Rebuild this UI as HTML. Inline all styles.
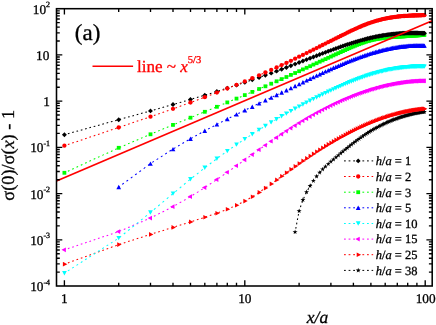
<!DOCTYPE html>
<html><head><meta charset="utf-8"><title>chart</title>
<style>html,body{margin:0;padding:0;background:#fff;}body{width:436px;height:325px;overflow:hidden;position:relative;font-family:"Liberation Serif",serif;}svg text{text-rendering:geometricPrecision;stroke-width:0.3px;}svg text.k{stroke:#000;}svg text.r{stroke:#ff0000;}</style>
</head><body>
<svg width="436" height="325" viewBox="0 0 436 325" style="display:block;position:absolute;left:0;top:0;will-change:transform">
<rect width="436" height="325" fill="#fff"/>
<clipPath id="c"><rect x="56.5" y="8.7" width="375.7" height="277.3"/></clipPath>
<g clip-path="url(#c)">
<path d="M295.09 232.09L295.24 231.29M295.76 228.59L296.06 226.99M296.58 224.29L296.88 222.69M297.40 219.99L297.70 218.39M298.22 215.69L298.52 214.09M299.04 211.39L299.11 211.05M299.11 211.05L299.54 209.79M300.46 207.09L301.01 205.49M301.94 202.79L302.49 201.19M303.59 198.49L304.34 196.89M305.60 194.19L306.35 192.59M307.82 189.89L308.72 188.29M310.27 185.59L311.31 183.99M313.07 181.29L313.39 180.79M313.39 180.79L314.19 179.69M316.13 176.99L316.59 176.36M316.59 176.36L317.38 175.39M319.57 172.69L319.66 172.58M319.66 172.58L321.02 171.09M323.57 168.40L325.17 166.80M327.87 164.29L328.22 163.98M328.22 163.98L329.47 162.88M332.17 160.54L333.44 159.46M333.44 159.46L333.77 159.18M336.47 156.89L338.07 155.54M340.77 153.27L342.37 151.93M345.07 149.70L345.16 149.63M345.16 149.63L346.67 148.39M349.37 146.21L349.39 146.20M349.39 146.20L350.97 144.94M353.67 142.84L355.27 141.62M357.97 139.60L359.08 138.79M359.08 138.79L359.57 138.44M362.27 136.53L362.64 136.27M362.64 136.27L363.87 135.43M366.57 133.64L367.70 132.92M367.70 132.92L368.17 132.62M370.87 130.95L370.89 130.94M370.89 130.94L372.45 130.01M372.45 130.01L372.47 129.99M375.17 128.44L375.46 128.28M375.46 128.28L376.77 127.56M379.47 126.12L379.77 125.96M379.77 125.96L381.07 125.30M383.77 123.98L383.86 123.93M383.86 123.93L385.18 123.31M385.18 123.31L385.37 123.22M388.07 122.01L389.00 121.60M389.00 121.60L389.67 121.32M392.37 120.21L392.65 120.10M392.65 120.10L393.82 119.64M393.82 119.64L393.97 119.58M396.67 118.57L397.26 118.36M397.26 118.36L398.27 118.01M400.97 117.10L401.61 116.90M401.61 116.90L402.57 116.60M405.27 115.79L405.73 115.66M405.73 115.66L406.73 115.38M406.73 115.38L406.87 115.34M409.57 114.63L409.65 114.61M409.65 114.61L410.60 114.37M410.60 114.37L411.17 114.24M413.87 113.62L414.29 113.53M414.29 113.53L415.18 113.34M415.18 113.34L415.47 113.28M418.17 112.75L418.67 112.66M418.67 112.66L419.51 112.51M419.51 112.51L419.77 112.47M422.47 112.03L422.81 111.98M422.81 111.98L423.62 111.86M423.62 111.86L424.07 111.80" fill="none" stroke="#000000" stroke-width="1.05"/>
<path d="M295.1 229.5L295.7 231.3L297.6 231.3L296.0 232.4L296.6 234.2L295.1 233.1L293.6 234.2L294.1 232.4L292.6 231.3L294.5 231.3Z" fill="#000000"/>
<path d="M299.1 208.4L299.7 210.2L301.6 210.2L300.1 211.4L300.6 213.2L299.1 212.0L297.6 213.2L298.2 211.4L296.6 210.2L298.5 210.2Z" fill="#000000"/>
<path d="M302.9 197.3L303.5 199.1L305.4 199.1L303.9 200.2L304.5 202.0L302.9 200.9L301.4 202.0L302.0 200.2L300.5 199.1L302.3 199.1Z" fill="#000000"/>
<path d="M306.6 189.5L307.2 191.3L309.0 191.3L307.5 192.4L308.1 194.2L306.6 193.1L305.0 194.2L305.6 192.4L304.1 191.3L306.0 191.3Z" fill="#000000"/>
<path d="M310.1 183.3L310.6 185.1L312.5 185.1L311.0 186.2L311.6 188.0L310.1 186.9L308.5 188.0L309.1 186.2L307.6 185.1L309.5 185.1Z" fill="#000000"/>
<path d="M313.4 178.2L314.0 180.0L315.9 180.0L314.3 181.1L314.9 182.9L313.4 181.8L311.9 182.9L312.4 181.1L310.9 180.0L312.8 180.0Z" fill="#000000"/>
<path d="M316.6 173.8L317.2 175.6L319.1 175.6L317.5 176.7L318.1 178.5L316.6 177.4L315.1 178.5L315.6 176.7L314.1 175.6L316.0 175.6Z" fill="#000000"/>
<path d="M319.7 170.0L320.2 171.8L322.1 171.8L320.6 172.9L321.2 174.7L319.7 173.6L318.1 174.7L318.7 172.9L317.2 171.8L319.1 171.8Z" fill="#000000"/>
<path d="M322.6 166.7L323.2 168.5L325.1 168.5L323.6 169.7L324.1 171.4L322.6 170.3L321.1 171.4L321.7 169.7L320.1 168.5L322.0 168.5Z" fill="#000000"/>
<path d="M325.5 163.9L326.1 165.7L327.9 165.7L326.4 166.8L327.0 168.6L325.5 167.5L323.9 168.6L324.5 166.8L323.0 165.7L324.9 165.7Z" fill="#000000"/>
<path d="M328.2 161.4L328.8 163.2L330.7 163.2L329.2 164.3L329.7 166.1L328.2 165.0L326.7 166.1L327.3 164.3L325.7 163.2L327.6 163.2Z" fill="#000000"/>
<path d="M330.9 159.0L331.5 160.8L333.3 160.8L331.8 162.0L332.4 163.8L330.9 162.6L329.3 163.8L329.9 162.0L328.4 160.8L330.3 160.8Z" fill="#000000"/>
<path d="M333.4 156.9L334.0 158.6L335.9 158.7L334.4 159.8L335.0 161.6L333.4 160.5L331.9 161.6L332.5 159.8L331.0 158.7L332.9 158.6Z" fill="#000000"/>
<path d="M335.9 154.7L336.5 156.5L338.4 156.5L336.9 157.7L337.5 159.5L335.9 158.3L334.4 159.5L335.0 157.7L333.5 156.5L335.3 156.5Z" fill="#000000"/>
<path d="M338.3 152.7L338.9 154.5L340.8 154.5L339.3 155.6L339.9 157.4L338.3 156.3L336.8 157.4L337.4 155.6L335.9 154.5L337.8 154.5Z" fill="#000000"/>
<path d="M340.7 150.7L341.3 152.5L343.2 152.5L341.6 153.7L342.2 155.4L340.7 154.3L339.2 155.4L339.7 153.7L338.2 152.5L340.1 152.5Z" fill="#000000"/>
<path d="M342.9 148.8L343.5 150.6L345.4 150.6L343.9 151.8L344.5 153.6L342.9 152.4L341.4 153.6L342.0 151.8L340.5 150.6L342.4 150.6Z" fill="#000000"/>
<path d="M345.2 147.0L345.7 148.8L347.6 148.8L346.1 149.9L346.7 151.7L345.2 150.6L343.6 151.7L344.2 149.9L342.7 148.8L344.6 148.8Z" fill="#000000"/>
<path d="M347.3 145.3L347.9 147.1L349.8 147.1L348.3 148.2L348.8 150.0L347.3 148.9L345.8 150.0L346.4 148.2L344.8 147.1L346.7 147.1Z" fill="#000000"/>
<path d="M349.4 143.6L350.0 145.4L351.9 145.4L350.3 146.5L350.9 148.3L349.4 147.2L347.9 148.3L348.4 146.5L346.9 145.4L348.8 145.4Z" fill="#000000"/>
<path d="M351.4 142.0L352.0 143.8L353.9 143.8L352.4 144.9L353.0 146.7L351.4 145.6L349.9 146.7L350.5 144.9L349.0 143.8L350.8 143.8Z" fill="#000000"/>
<path d="M353.4 140.4L354.0 142.2L355.9 142.2L354.4 143.3L354.9 145.1L353.4 144.0L351.9 145.1L352.5 143.3L350.9 142.2L352.8 142.2Z" fill="#000000"/>
<path d="M355.3 139.0L355.9 140.7L357.8 140.8L356.3 141.9L356.9 143.7L355.3 142.6L353.8 143.7L354.4 141.9L352.9 140.8L354.8 140.7Z" fill="#000000"/>
<path d="M357.2 137.5L357.8 139.3L359.7 139.3L358.2 140.5L358.8 142.2L357.2 141.1L355.7 142.2L356.3 140.5L354.8 139.3L356.6 139.3Z" fill="#000000"/>
<path d="M359.1 136.2L359.7 138.0L361.6 138.0L360.0 139.1L360.6 140.9L359.1 139.8L357.5 140.9L358.1 139.1L356.6 138.0L358.5 138.0Z" fill="#000000"/>
<path d="M360.9 134.9L361.5 136.7L363.4 136.7L361.8 137.8L362.4 139.6L360.9 138.5L359.4 139.6L359.9 137.8L358.4 136.7L360.3 136.7Z" fill="#000000"/>
<path d="M362.6 133.7L363.2 135.5L365.1 135.5L363.6 136.6L364.2 138.4L362.6 137.3L361.1 138.4L361.7 136.6L360.2 135.5L362.1 135.5Z" fill="#000000"/>
<path d="M364.4 132.5L364.9 134.3L366.8 134.3L365.3 135.4L365.9 137.2L364.4 136.1L362.8 137.2L363.4 135.4L361.9 134.3L363.8 134.3Z" fill="#000000"/>
<path d="M366.0 131.4L366.6 133.2L368.5 133.2L367.0 134.3L367.6 136.1L366.0 135.0L364.5 136.1L365.1 134.3L363.6 133.2L365.5 133.2Z" fill="#000000"/>
<path d="M367.7 130.3L368.3 132.1L370.2 132.1L368.6 133.2L369.2 135.0L367.7 133.9L366.2 135.0L366.7 133.2L365.2 132.1L367.1 132.1Z" fill="#000000"/>
<path d="M369.3 129.3L369.9 131.1L371.8 131.1L370.3 132.2L370.8 134.0L369.3 132.9L367.8 134.0L368.4 132.2L366.8 131.1L368.7 131.1Z" fill="#000000"/>
<path d="M370.9 128.3L371.5 130.1L373.4 130.1L371.8 131.2L372.4 133.0L370.9 131.9L369.4 133.0L369.9 131.2L368.4 130.1L370.3 130.1Z" fill="#000000"/>
<path d="M372.4 127.4L373.0 129.2L374.9 129.2L373.4 130.3L374.0 132.1L372.4 131.0L370.9 132.1L371.5 130.3L370.0 129.2L371.9 129.2Z" fill="#000000"/>
<path d="M374.0 126.5L374.6 128.3L376.4 128.3L374.9 129.4L375.5 131.2L374.0 130.1L372.4 131.2L373.0 129.4L371.5 128.3L373.4 128.3Z" fill="#000000"/>
<path d="M375.5 125.7L376.0 127.5L377.9 127.5L376.4 128.6L377.0 130.4L375.5 129.3L373.9 130.4L374.5 128.6L373.0 127.5L374.9 127.5Z" fill="#000000"/>
<path d="M376.9 124.9L377.5 126.7L379.4 126.7L377.9 127.8L378.5 129.6L376.9 128.5L375.4 129.6L376.0 127.8L374.5 126.7L376.3 126.7Z" fill="#000000"/>
<path d="M378.4 124.1L378.9 125.9L380.8 125.9L379.3 127.0L379.9 128.8L378.4 127.7L376.8 128.8L377.4 127.0L375.9 125.9L377.8 125.9Z" fill="#000000"/>
<path d="M379.8 123.4L380.4 125.2L382.2 125.2L380.7 126.3L381.3 128.1L379.8 127.0L378.2 128.1L378.8 126.3L377.3 125.2L379.2 125.2Z" fill="#000000"/>
<path d="M381.2 122.7L381.7 124.4L383.6 124.5L382.1 125.6L382.7 127.4L381.2 126.3L379.6 127.4L380.2 125.6L378.7 124.5L380.6 124.4Z" fill="#000000"/>
<path d="M382.5 122.0L383.1 123.8L385.0 123.8L383.5 124.9L384.1 126.7L382.5 125.6L381.0 126.7L381.6 124.9L380.0 123.8L381.9 123.8Z" fill="#000000"/>
<path d="M383.9 121.3L384.4 123.1L386.3 123.1L384.8 124.2L385.4 126.0L383.9 124.9L382.3 126.0L382.9 124.2L381.4 123.1L383.3 123.1Z" fill="#000000"/>
<path d="M385.2 120.7L385.8 122.5L387.7 122.5L386.1 123.6L386.7 125.4L385.2 124.3L383.7 125.4L384.2 123.6L382.7 122.5L384.6 122.5Z" fill="#000000"/>
<path d="M386.5 120.1L387.1 121.9L388.9 121.9L387.4 123.0L388.0 124.8L386.5 123.7L384.9 124.8L385.5 123.0L384.0 121.9L385.9 121.9Z" fill="#000000"/>
<path d="M387.7 119.5L388.3 121.3L390.2 121.3L388.7 122.5L389.3 124.3L387.7 123.1L386.2 124.3L386.8 122.5L385.3 121.3L387.2 121.3Z" fill="#000000"/>
<path d="M389.0 119.0L389.6 120.8L391.5 120.8L390.0 121.9L390.5 123.7L389.0 122.6L387.5 123.7L388.0 121.9L386.5 120.8L388.4 120.8Z" fill="#000000"/>
<path d="M390.2 118.5L390.8 120.3L392.7 120.3L391.2 121.4L391.8 123.2L390.2 122.1L388.7 123.2L389.3 121.4L387.8 120.3L389.6 120.3Z" fill="#000000"/>
<path d="M391.4 118.0L392.0 119.8L393.9 119.8L392.4 120.9L393.0 122.7L391.4 121.6L389.9 122.7L390.5 120.9L389.0 119.8L390.9 119.8Z" fill="#000000"/>
<path d="M392.6 117.5L393.2 119.3L395.1 119.3L393.6 120.4L394.2 122.2L392.6 121.1L391.1 122.2L391.7 120.4L390.2 119.3L392.1 119.3Z" fill="#000000"/>
<path d="M393.8 117.0L394.4 118.8L396.3 118.8L394.8 119.9L395.4 121.7L393.8 120.6L392.3 121.7L392.9 119.9L391.4 118.8L393.2 118.8Z" fill="#000000"/>
<path d="M395.0 116.6L395.6 118.4L397.5 118.4L395.9 119.5L396.5 121.3L395.0 120.2L393.5 121.3L394.0 119.5L392.5 118.4L394.4 118.4Z" fill="#000000"/>
<path d="M396.1 116.2L396.7 118.0L398.6 118.0L397.1 119.1L397.7 120.9L396.1 119.8L394.6 120.9L395.2 119.1L393.7 118.0L395.5 118.0Z" fill="#000000"/>
<path d="M397.3 115.8L397.8 117.6L399.7 117.6L398.2 118.7L398.8 120.5L397.3 119.4L395.7 120.5L396.3 118.7L394.8 117.6L396.7 117.6Z" fill="#000000"/>
<path d="M398.4 115.4L399.0 117.2L400.8 117.2L399.3 118.3L399.9 120.1L398.4 119.0L396.8 120.1L397.4 118.3L395.9 117.2L397.8 117.2Z" fill="#000000"/>
<path d="M399.5 115.0L400.1 116.8L401.9 116.8L400.4 117.9L401.0 119.7L399.5 118.6L397.9 119.7L398.5 117.9L397.0 116.8L398.9 116.8Z" fill="#000000"/>
<path d="M400.5 114.6L401.1 116.4L403.0 116.4L401.5 117.6L402.1 119.3L400.5 118.2L399.0 119.3L399.6 117.6L398.1 116.4L400.0 116.4Z" fill="#000000"/>
<path d="M401.6 114.3L402.2 116.1L404.1 116.1L402.6 117.2L403.1 119.0L401.6 117.9L400.1 119.0L400.7 117.2L399.1 116.1L401.0 116.1Z" fill="#000000"/>
<path d="M402.7 114.0L403.2 115.8L405.1 115.8L403.6 116.9L404.2 118.7L402.7 117.6L401.1 118.7L401.7 116.9L400.2 115.8L402.1 115.8Z" fill="#000000"/>
<path d="M403.7 113.7L404.3 115.4L406.2 115.4L404.6 116.6L405.2 118.4L403.7 117.3L402.2 118.4L402.7 116.6L401.2 115.4L403.1 115.4Z" fill="#000000"/>
<path d="M404.7 113.3L405.3 115.1L407.2 115.1L405.7 116.3L406.3 118.1L404.7 116.9L403.2 118.1L403.8 116.3L402.3 115.1L404.1 115.1Z" fill="#000000"/>
<path d="M405.7 113.1L406.3 114.8L408.2 114.9L406.7 116.0L407.3 117.8L405.7 116.7L404.2 117.8L404.8 116.0L403.3 114.9L405.1 114.8Z" fill="#000000"/>
<path d="M406.7 112.8L407.3 114.6L409.2 114.6L407.7 115.7L408.3 117.5L406.7 116.4L405.2 117.5L405.8 115.7L404.3 114.6L406.1 114.6Z" fill="#000000"/>
<path d="M407.7 112.5L408.3 114.3L410.2 114.3L408.7 115.4L409.2 117.2L407.7 116.1L406.2 117.2L406.8 115.4L405.2 114.3L407.1 114.3Z" fill="#000000"/>
<path d="M408.7 112.3L409.3 114.0L411.2 114.1L409.6 115.2L410.2 117.0L408.7 115.9L407.2 117.0L407.7 115.2L406.2 114.1L408.1 114.0Z" fill="#000000"/>
<path d="M409.7 112.0L410.2 113.8L412.1 113.8L410.6 114.9L411.2 116.7L409.7 115.6L408.1 116.7L408.7 114.9L407.2 113.8L409.1 113.8Z" fill="#000000"/>
<path d="M410.6 111.8L411.2 113.6L413.1 113.6L411.6 114.7L412.1 116.5L410.6 115.4L409.1 116.5L409.7 114.7L408.1 113.6L410.0 113.6Z" fill="#000000"/>
<path d="M411.5 111.5L412.1 113.3L414.0 113.3L412.5 114.5L413.1 116.3L411.5 115.1L410.0 116.3L410.6 114.5L409.1 113.3L411.0 113.3Z" fill="#000000"/>
<path d="M412.5 111.3L413.1 113.1L414.9 113.1L413.4 114.2L414.0 116.0L412.5 114.9L410.9 116.0L411.5 114.2L410.0 113.1L411.9 113.1Z" fill="#000000"/>
<path d="M413.4 111.1L414.0 112.9L415.9 112.9L414.3 114.0L414.9 115.8L413.4 114.7L411.9 115.8L412.4 114.0L410.9 112.9L412.8 112.9Z" fill="#000000"/>
<path d="M414.3 110.9L414.9 112.7L416.8 112.7L415.2 113.8L415.8 115.6L414.3 114.5L412.8 115.6L413.3 113.8L411.8 112.7L413.7 112.7Z" fill="#000000"/>
<path d="M415.2 110.7L415.8 112.5L417.7 112.5L416.1 113.6L416.7 115.4L415.2 114.3L413.7 115.4L414.2 113.6L412.7 112.5L414.6 112.5Z" fill="#000000"/>
<path d="M416.1 110.6L416.7 112.3L418.5 112.4L417.0 113.5L417.6 115.3L416.1 114.2L414.5 115.3L415.1 113.5L413.6 112.4L415.5 112.3Z" fill="#000000"/>
<path d="M416.9 110.4L417.5 112.2L419.4 112.2L417.9 113.3L418.5 115.1L416.9 114.0L415.4 115.1L416.0 113.3L414.5 112.2L416.4 112.2Z" fill="#000000"/>
<path d="M417.8 110.2L418.4 112.0L420.3 112.0L418.8 113.1L419.3 114.9L417.8 113.8L416.3 114.9L416.9 113.1L415.3 112.0L417.2 112.0Z" fill="#000000"/>
<path d="M418.7 110.1L419.3 111.9L421.1 111.9L419.6 113.0L420.2 114.8L418.7 113.7L417.1 114.8L417.7 113.0L416.2 111.9L418.1 111.9Z" fill="#000000"/>
<path d="M419.5 109.9L420.1 111.7L422.0 111.7L420.5 112.8L421.0 114.6L419.5 113.5L418.0 114.6L418.6 112.8L417.0 111.7L418.9 111.7Z" fill="#000000"/>
<path d="M420.4 109.8L420.9 111.6L422.8 111.6L421.3 112.7L421.9 114.5L420.4 113.4L418.8 114.5L419.4 112.7L417.9 111.6L419.8 111.6Z" fill="#000000"/>
<path d="M421.2 109.6L421.8 111.4L423.7 111.4L422.1 112.5L422.7 114.3L421.2 113.2L419.7 114.3L420.2 112.5L418.7 111.4L420.6 111.4Z" fill="#000000"/>
<path d="M422.0 109.5L422.6 111.3L424.5 111.3L423.0 112.4L423.5 114.2L422.0 113.1L420.5 114.2L421.1 112.4L419.5 111.3L421.4 111.3Z" fill="#000000"/>
<path d="M422.8 109.4L423.4 111.2L425.3 111.2L423.8 112.3L424.3 114.1L422.8 113.0L421.3 114.1L421.9 112.3L420.3 111.2L422.2 111.2Z" fill="#000000"/>
<path d="M423.6 109.3L424.2 111.1L426.1 111.1L424.6 112.2L425.1 114.0L423.6 112.9L422.1 114.0L422.7 112.2L421.1 111.1L423.0 111.1Z" fill="#000000"/>
<path d="M424.4 109.1L425.0 110.9L426.9 110.9L425.4 112.1L425.9 113.9L424.4 112.7L422.9 113.9L423.5 112.1L421.9 110.9L423.8 110.9Z" fill="#000000"/>
<path d="M64.40 264.16L65.20 263.87M67.90 262.90L69.50 262.32M72.20 261.35L73.80 260.78M76.50 259.81L78.10 259.23M80.80 258.26L82.40 257.68M85.10 256.71L86.70 256.14M89.40 255.17L91.00 254.59M93.70 253.62L95.30 253.05M98.00 252.08L99.60 251.50M102.30 250.53L103.90 249.95M106.60 248.98L108.20 248.41M110.90 247.44L112.50 246.86M115.20 245.89L116.80 245.32M119.50 244.38L121.10 243.86M123.80 243.00L125.40 242.48M128.10 241.62L129.70 241.10M132.40 240.24L134.00 239.72M136.70 238.85L138.30 238.34M141.00 237.47L142.60 236.96M145.30 236.09L146.90 235.58M149.60 234.71L150.47 234.43M150.47 234.43L151.20 234.21M153.90 233.36L155.50 232.86M158.20 232.02L159.80 231.51M162.50 230.67L164.10 230.17M166.80 229.32L168.40 228.82M171.10 227.98L172.70 227.48M175.40 226.63L177.00 226.12M179.70 225.27L181.30 224.76M184.00 223.91L185.60 223.41M188.30 222.56L189.90 222.05M192.60 221.19L194.20 220.67M196.90 219.80L198.50 219.29M201.20 218.42L202.80 217.90M205.50 217.02L207.10 216.49M209.80 215.58L211.40 215.04M214.10 214.13L215.70 213.60M218.40 212.63L220.00 212.03M222.70 211.02L224.30 210.41M227.00 209.40L227.32 209.28M227.32 209.28L228.60 208.73M231.30 207.55L232.90 206.86M235.60 205.68L236.55 205.27M236.55 205.27L237.20 204.94M239.90 203.57L241.50 202.76M244.20 201.39L244.80 201.09M244.80 201.09L245.80 200.50M248.50 198.93L250.10 198.00M252.80 196.39L254.40 195.36M257.10 193.63L258.70 192.60M261.40 190.77L263.00 189.67M265.70 187.82L267.30 186.68M270.00 184.76L271.16 183.93M271.16 183.93L271.60 183.61M274.30 181.64L275.90 180.47M278.60 178.49L280.20 177.31M282.90 175.32L284.50 174.15M287.20 172.16L288.80 170.99M291.50 169.03L293.10 167.88M295.80 165.94L297.40 164.81M300.10 162.90L301.70 161.79M304.40 159.92L306.00 158.82M308.70 157.00L310.06 156.08M310.06 156.08L310.30 155.92M313.00 154.12L313.39 153.87M313.39 153.87L314.60 153.08M317.30 151.32L318.90 150.29M321.60 148.58L322.62 147.94M322.62 147.94L323.20 147.57M325.90 145.90L327.50 144.92M330.20 143.30L330.87 142.89M330.87 142.89L331.80 142.35M334.50 140.76L335.93 139.94M335.93 139.94L336.10 139.84M338.80 138.30L340.40 137.41M343.10 135.92L344.70 135.06M347.40 133.62L349.00 132.78M351.70 131.40L353.30 130.59M356.00 129.27L357.23 128.67M357.23 128.67L357.60 128.49M360.30 127.22L360.88 126.95M360.88 126.95L361.90 126.48M364.60 125.26L366.05 124.62M366.05 124.62L366.20 124.56M368.90 123.40L369.31 123.22M369.31 123.22L370.50 122.73M373.20 121.63L373.97 121.32M373.97 121.32L374.80 121.00M377.50 119.96L378.36 119.64M378.36 119.64L379.10 119.36M381.80 118.39L382.52 118.14M382.52 118.14L383.40 117.83M386.10 116.92L386.47 116.80M386.47 116.80L387.70 116.40M390.40 115.56L391.45 115.25M391.45 115.25L392.00 115.09M394.70 114.31L394.98 114.23M394.98 114.23L396.13 113.92M396.13 113.92L396.30 113.87M399.00 113.17L399.46 113.05M399.46 113.05L400.54 112.79M400.54 112.79L400.60 112.77M403.30 112.14L403.70 112.05M403.70 112.05L404.72 111.83M404.72 111.83L404.90 111.79M407.60 111.23L407.72 111.21M407.72 111.21L408.69 111.02M408.69 111.02L409.20 110.92M411.90 110.44L412.47 110.35M412.47 110.35L413.38 110.20M413.38 110.20L413.50 110.18M416.20 109.77L416.95 109.67M416.95 109.67L417.80 109.55M420.50 109.22L421.18 109.15M421.18 109.15L422.00 109.06M422.00 109.06L422.10 109.05" fill="none" stroke="#ff0000" stroke-width="1.05"/>
<path d="M67.3 264.2L62.9 261.8L62.9 266.5Z" fill="#ff0000"/>
<path d="M121.6 244.6L117.2 242.3L117.2 247.0Z" fill="#ff0000"/>
<path d="M153.4 234.4L149.0 232.1L149.0 236.8Z" fill="#ff0000"/>
<path d="M175.9 227.4L171.5 225.0L171.5 229.7Z" fill="#ff0000"/>
<path d="M193.4 221.9L189.0 219.5L189.0 224.2Z" fill="#ff0000"/>
<path d="M207.7 217.3L203.3 214.9L203.3 219.6Z" fill="#ff0000"/>
<path d="M219.8 213.2L215.4 210.9L215.4 215.6Z" fill="#ff0000"/>
<path d="M230.2 209.3L225.8 206.9L225.8 211.6Z" fill="#ff0000"/>
<path d="M239.4 205.3L235.0 202.9L235.0 207.6Z" fill="#ff0000"/>
<path d="M247.7 201.1L243.3 198.7L243.3 203.4Z" fill="#ff0000"/>
<path d="M255.2 196.7L250.8 194.4L250.8 199.1Z" fill="#ff0000"/>
<path d="M262.0 192.4L257.6 190.0L257.6 194.7Z" fill="#ff0000"/>
<path d="M268.3 188.1L263.9 185.7L263.9 190.4Z" fill="#ff0000"/>
<path d="M274.1 183.9L269.7 181.6L269.7 186.3Z" fill="#ff0000"/>
<path d="M279.5 180.0L275.1 177.6L275.1 182.3Z" fill="#ff0000"/>
<path d="M284.5 176.3L280.1 173.9L280.1 178.6Z" fill="#ff0000"/>
<path d="M289.3 172.8L284.9 170.4L284.9 175.1Z" fill="#ff0000"/>
<path d="M293.8 169.5L289.4 167.1L289.4 171.8Z" fill="#ff0000"/>
<path d="M298.0 166.4L293.6 164.1L293.6 168.8Z" fill="#ff0000"/>
<path d="M302.0 163.6L297.6 161.2L297.6 165.9Z" fill="#ff0000"/>
<path d="M305.8 160.9L301.4 158.6L301.4 163.3Z" fill="#ff0000"/>
<path d="M309.5 158.4L305.1 156.1L305.1 160.8Z" fill="#ff0000"/>
<path d="M313.0 156.1L308.6 153.7L308.6 158.4Z" fill="#ff0000"/>
<path d="M316.3 153.9L311.9 151.5L311.9 156.2Z" fill="#ff0000"/>
<path d="M319.5 151.8L315.1 149.4L315.1 154.1Z" fill="#ff0000"/>
<path d="M322.6 149.8L318.2 147.5L318.2 152.2Z" fill="#ff0000"/>
<path d="M325.5 147.9L321.1 145.6L321.1 150.3Z" fill="#ff0000"/>
<path d="M328.4 146.2L324.0 143.8L324.0 148.5Z" fill="#ff0000"/>
<path d="M331.1 144.5L326.7 142.1L326.7 146.8Z" fill="#ff0000"/>
<path d="M333.8 142.9L329.4 140.5L329.4 145.2Z" fill="#ff0000"/>
<path d="M336.3 141.4L331.9 139.0L331.9 143.7Z" fill="#ff0000"/>
<path d="M338.8 139.9L334.4 137.6L334.4 142.3Z" fill="#ff0000"/>
<path d="M341.2 138.6L336.8 136.2L336.8 140.9Z" fill="#ff0000"/>
<path d="M343.6 137.3L339.2 134.9L339.2 139.6Z" fill="#ff0000"/>
<path d="M345.8 136.0L341.4 133.7L341.4 138.4Z" fill="#ff0000"/>
<path d="M348.1 134.8L343.7 132.5L343.7 137.2Z" fill="#ff0000"/>
<path d="M350.2 133.7L345.8 131.3L345.8 136.0Z" fill="#ff0000"/>
<path d="M352.3 132.6L347.9 130.2L347.9 134.9Z" fill="#ff0000"/>
<path d="M354.3 131.5L349.9 129.2L349.9 133.9Z" fill="#ff0000"/>
<path d="M356.3 130.5L351.9 128.2L351.9 132.9Z" fill="#ff0000"/>
<path d="M358.2 129.6L353.8 127.2L353.8 131.9Z" fill="#ff0000"/>
<path d="M360.1 128.7L355.7 126.3L355.7 131.0Z" fill="#ff0000"/>
<path d="M362.0 127.8L357.6 125.4L357.6 130.1Z" fill="#ff0000"/>
<path d="M363.8 126.9L359.4 124.6L359.4 129.3Z" fill="#ff0000"/>
<path d="M365.5 126.1L361.1 123.8L361.1 128.5Z" fill="#ff0000"/>
<path d="M367.3 125.4L362.9 123.0L362.9 127.7Z" fill="#ff0000"/>
<path d="M368.9 124.6L364.5 122.3L364.5 127.0Z" fill="#ff0000"/>
<path d="M370.6 123.9L366.2 121.6L366.2 126.3Z" fill="#ff0000"/>
<path d="M372.2 123.2L367.8 120.9L367.8 125.6Z" fill="#ff0000"/>
<path d="M373.8 122.6L369.4 120.2L369.4 124.9Z" fill="#ff0000"/>
<path d="M375.3 121.9L370.9 119.6L370.9 124.3Z" fill="#ff0000"/>
<path d="M376.9 121.3L372.5 119.0L372.5 123.7Z" fill="#ff0000"/>
<path d="M378.4 120.7L374.0 118.4L374.0 123.1Z" fill="#ff0000"/>
<path d="M379.8 120.2L375.4 117.8L375.4 122.5Z" fill="#ff0000"/>
<path d="M381.3 119.6L376.9 117.3L376.9 122.0Z" fill="#ff0000"/>
<path d="M382.7 119.1L378.3 116.8L378.3 121.5Z" fill="#ff0000"/>
<path d="M384.1 118.6L379.7 116.3L379.7 121.0Z" fill="#ff0000"/>
<path d="M385.4 118.1L381.0 115.8L381.0 120.5Z" fill="#ff0000"/>
<path d="M386.8 117.7L382.4 115.3L382.4 120.0Z" fill="#ff0000"/>
<path d="M388.1 117.2L383.7 114.9L383.7 119.6Z" fill="#ff0000"/>
<path d="M389.4 116.8L385.0 114.5L385.0 119.2Z" fill="#ff0000"/>
<path d="M390.6 116.4L386.2 114.0L386.2 118.7Z" fill="#ff0000"/>
<path d="M391.9 116.0L387.5 113.6L387.5 118.3Z" fill="#ff0000"/>
<path d="M393.1 115.6L388.7 113.3L388.7 118.0Z" fill="#ff0000"/>
<path d="M394.3 115.2L389.9 112.9L389.9 117.6Z" fill="#ff0000"/>
<path d="M395.5 114.9L391.1 112.5L391.1 117.2Z" fill="#ff0000"/>
<path d="M396.7 114.6L392.3 112.2L392.3 116.9Z" fill="#ff0000"/>
<path d="M397.9 114.2L393.5 111.9L393.5 116.6Z" fill="#ff0000"/>
<path d="M399.0 113.9L394.6 111.6L394.6 116.3Z" fill="#ff0000"/>
<path d="M400.2 113.6L395.8 111.3L395.8 116.0Z" fill="#ff0000"/>
<path d="M401.3 113.3L396.9 111.0L396.9 115.7Z" fill="#ff0000"/>
<path d="M402.4 113.1L398.0 110.7L398.0 115.4Z" fill="#ff0000"/>
<path d="M403.4 112.8L399.0 110.4L399.0 115.1Z" fill="#ff0000"/>
<path d="M404.5 112.5L400.1 110.2L400.1 114.9Z" fill="#ff0000"/>
<path d="M405.6 112.3L401.2 109.9L401.2 114.6Z" fill="#ff0000"/>
<path d="M406.6 112.1L402.2 109.7L402.2 114.4Z" fill="#ff0000"/>
<path d="M407.6 111.8L403.2 109.5L403.2 114.2Z" fill="#ff0000"/>
<path d="M408.6 111.6L404.2 109.3L404.2 114.0Z" fill="#ff0000"/>
<path d="M409.6 111.4L405.2 109.1L405.2 113.8Z" fill="#ff0000"/>
<path d="M410.6 111.2L406.2 108.9L406.2 113.6Z" fill="#ff0000"/>
<path d="M411.6 111.0L407.2 108.7L407.2 113.4Z" fill="#ff0000"/>
<path d="M412.6 110.8L408.2 108.5L408.2 113.2Z" fill="#ff0000"/>
<path d="M413.5 110.7L409.1 108.3L409.1 113.0Z" fill="#ff0000"/>
<path d="M414.4 110.5L410.0 108.2L410.0 112.9Z" fill="#ff0000"/>
<path d="M415.4 110.3L411.0 108.0L411.0 112.7Z" fill="#ff0000"/>
<path d="M416.3 110.2L411.9 107.8L411.9 112.5Z" fill="#ff0000"/>
<path d="M417.2 110.1L412.8 107.7L412.8 112.4Z" fill="#ff0000"/>
<path d="M418.1 109.9L413.7 107.6L413.7 112.3Z" fill="#ff0000"/>
<path d="M419.0 109.8L414.6 107.4L414.6 112.1Z" fill="#ff0000"/>
<path d="M419.8 109.7L415.4 107.3L415.4 112.0Z" fill="#ff0000"/>
<path d="M420.7 109.6L416.3 107.2L416.3 111.9Z" fill="#ff0000"/>
<path d="M421.6 109.4L417.2 107.1L417.2 111.8Z" fill="#ff0000"/>
<path d="M422.4 109.3L418.0 107.0L418.0 111.7Z" fill="#ff0000"/>
<path d="M423.3 109.2L418.9 106.9L418.9 111.6Z" fill="#ff0000"/>
<path d="M424.1 109.1L419.7 106.8L419.7 111.5Z" fill="#ff0000"/>
<path d="M424.9 109.1L420.5 106.7L420.5 111.4Z" fill="#ff0000"/>
<path d="M425.7 109.0L421.3 106.6L421.3 111.3Z" fill="#ff0000"/>
<path d="M426.5 108.9L422.1 106.6L422.1 111.3Z" fill="#ff0000"/>
<path d="M427.3 108.8L422.9 106.5L422.9 111.2Z" fill="#ff0000"/>
<path d="M64.40 249.83L65.20 249.56M67.90 248.65L69.50 248.12M72.20 247.21L73.80 246.67M76.50 245.77L78.10 245.23M80.80 244.32L82.40 243.79M85.10 242.88L86.70 242.34M89.40 241.44L91.00 240.90M93.70 240.00L95.30 239.46M98.00 238.55L99.60 238.02M102.30 237.11L103.90 236.57M106.60 235.67L108.20 235.13M110.90 234.22L112.50 233.69M115.20 232.78L116.80 232.25M119.50 231.27L121.10 230.58M123.80 229.43L125.40 228.75M128.10 227.60L129.70 226.92M132.40 225.76L134.00 225.08M136.70 223.93L138.30 223.25M141.00 222.10L142.60 221.41M145.30 220.26L146.90 219.58M149.60 218.43L150.47 218.06M150.47 218.06L151.20 217.69M153.90 216.32L155.50 215.52M158.20 214.15L159.80 213.34M162.50 211.98L164.10 211.17M166.80 209.81L168.40 209.00M171.10 207.63L172.70 206.82M175.40 205.30L177.00 204.38M179.70 202.83L181.30 201.91M184.00 200.36L185.60 199.44M188.30 197.89L189.90 196.97M192.60 195.30L194.20 194.29M196.90 192.59L198.50 191.58M201.20 189.87L202.80 188.86M205.50 187.13L207.10 186.06M209.80 184.25L211.40 183.17M214.10 181.37L215.70 180.29M218.40 178.45L220.00 177.34M222.70 175.47L224.30 174.36M227.00 172.48L227.32 172.26M227.32 172.26L228.60 171.36M231.30 169.45L232.90 168.31M235.60 166.40L236.55 165.74M236.55 165.74L237.20 165.27M239.90 163.34L241.50 162.20M244.20 160.27L244.80 159.85M244.80 159.85L245.80 159.13M248.50 157.20L250.10 156.06M252.80 154.14L254.40 153.00M257.10 151.08L258.70 149.94M261.40 148.04L263.00 146.92M265.70 145.02L267.30 143.91M270.00 142.04L271.16 141.23M271.16 141.23L271.60 140.93M274.30 139.09L275.90 138.00M278.60 136.19L280.20 135.12M282.90 133.33L284.50 132.28M287.20 130.52L288.80 129.50M291.50 127.78L293.10 126.77M295.80 125.09L297.40 124.11M300.10 122.46L301.70 121.50M304.40 119.90L306.00 118.96M308.70 117.40L310.06 116.61M310.06 116.61L310.30 116.48M313.00 114.96L313.39 114.74M313.39 114.74L314.60 114.07M317.30 112.59L318.90 111.73M321.60 110.29L322.62 109.75M322.62 109.75L323.20 109.45M325.90 108.06L327.50 107.25M330.20 105.91L330.87 105.57M330.87 105.57L331.80 105.12M334.50 103.83L335.93 103.15M335.93 103.15L336.10 103.07M338.80 101.82L340.40 101.10M343.10 99.90L344.70 99.21M347.40 98.06L349.00 97.39M351.70 96.30L353.30 95.66M356.00 94.62L357.23 94.15M357.23 94.15L357.60 94.02M360.30 93.03L360.88 92.82M360.88 92.82L361.90 92.46M364.60 91.53L366.05 91.04M366.05 91.04L366.20 90.99M368.90 90.12L369.31 89.99M369.31 89.99L370.50 89.62M373.20 88.80L373.97 88.57M373.97 88.57L374.80 88.33M377.50 87.57L378.36 87.34M378.36 87.34L379.10 87.14M381.80 86.44L382.52 86.26M382.52 86.26L383.40 86.05M386.10 85.41L386.47 85.33M386.47 85.33L387.70 85.05M390.40 84.48L391.45 84.26M391.45 84.26L392.00 84.16M394.70 83.65L394.98 83.59M394.98 83.59L396.13 83.39M396.13 83.39L396.30 83.36M399.00 82.92L399.46 82.84M399.46 82.84L400.54 82.68M400.54 82.68L400.60 82.67M403.30 82.29L403.70 82.24M403.70 82.24L404.72 82.11M404.72 82.11L404.90 82.09M407.60 81.78L407.72 81.76M407.72 81.76L408.69 81.66M408.69 81.66L409.20 81.61M411.90 81.37L412.47 81.32M412.47 81.32L413.38 81.25M413.38 81.25L413.50 81.25M416.20 81.07L416.95 81.03M416.95 81.03L417.80 80.99M420.50 80.89L421.18 80.87M421.18 80.87L422.00 80.85M422.00 80.85L422.10 80.85" fill="none" stroke="#ff00ff" stroke-width="1.05"/>
<path d="M61.5 249.8L65.9 247.5L65.9 252.2Z" fill="#ff00ff"/>
<path d="M115.8 231.6L120.2 229.3L120.2 234.0Z" fill="#ff00ff"/>
<path d="M147.6 218.1L152.0 215.7L152.0 220.4Z" fill="#ff00ff"/>
<path d="M170.1 206.7L174.5 204.3L174.5 209.0Z" fill="#ff00ff"/>
<path d="M187.6 196.6L192.0 194.3L192.0 199.0Z" fill="#ff00ff"/>
<path d="M201.9 187.6L206.3 185.3L206.3 190.0Z" fill="#ff00ff"/>
<path d="M214.0 179.5L218.4 177.2L218.4 181.9Z" fill="#ff00ff"/>
<path d="M224.4 172.3L228.8 169.9L228.8 174.6Z" fill="#ff00ff"/>
<path d="M233.6 165.7L238.0 163.4L238.0 168.1Z" fill="#ff00ff"/>
<path d="M241.9 159.8L246.3 157.5L246.3 162.2Z" fill="#ff00ff"/>
<path d="M249.4 154.5L253.8 152.2L253.8 156.9Z" fill="#ff00ff"/>
<path d="M256.2 149.7L260.6 147.3L260.6 152.0Z" fill="#ff00ff"/>
<path d="M262.5 145.3L266.9 142.9L266.9 147.6Z" fill="#ff00ff"/>
<path d="M268.3 141.2L272.7 138.9L272.7 143.6Z" fill="#ff00ff"/>
<path d="M273.7 137.5L278.1 135.2L278.1 139.9Z" fill="#ff00ff"/>
<path d="M278.7 134.2L283.1 131.8L283.1 136.5Z" fill="#ff00ff"/>
<path d="M283.5 131.1L287.9 128.7L287.9 133.4Z" fill="#ff00ff"/>
<path d="M288.0 128.2L292.4 125.8L292.4 130.5Z" fill="#ff00ff"/>
<path d="M292.2 125.5L296.6 123.2L296.6 127.9Z" fill="#ff00ff"/>
<path d="M296.2 123.1L300.6 120.7L300.6 125.4Z" fill="#ff00ff"/>
<path d="M300.0 120.8L304.4 118.4L304.4 123.1Z" fill="#ff00ff"/>
<path d="M303.7 118.6L308.1 116.3L308.1 121.0Z" fill="#ff00ff"/>
<path d="M307.2 116.6L311.6 114.3L311.6 119.0Z" fill="#ff00ff"/>
<path d="M310.5 114.7L314.9 112.4L314.9 117.1Z" fill="#ff00ff"/>
<path d="M313.7 113.0L318.1 110.6L318.1 115.3Z" fill="#ff00ff"/>
<path d="M316.8 111.3L321.2 109.0L321.2 113.7Z" fill="#ff00ff"/>
<path d="M319.7 109.8L324.1 107.4L324.1 112.1Z" fill="#ff00ff"/>
<path d="M322.6 108.3L327.0 105.9L327.0 110.6Z" fill="#ff00ff"/>
<path d="M325.3 106.9L329.7 104.5L329.7 109.2Z" fill="#ff00ff"/>
<path d="M328.0 105.6L332.4 103.2L332.4 107.9Z" fill="#ff00ff"/>
<path d="M330.5 104.3L334.9 102.0L334.9 106.7Z" fill="#ff00ff"/>
<path d="M333.0 103.2L337.4 100.8L337.4 105.5Z" fill="#ff00ff"/>
<path d="M335.4 102.0L339.8 99.7L339.8 104.4Z" fill="#ff00ff"/>
<path d="M337.8 101.0L342.2 98.6L342.2 103.3Z" fill="#ff00ff"/>
<path d="M340.0 100.0L344.4 97.6L344.4 102.3Z" fill="#ff00ff"/>
<path d="M342.3 99.0L346.7 96.7L346.7 101.4Z" fill="#ff00ff"/>
<path d="M344.4 98.1L348.8 95.7L348.8 100.4Z" fill="#ff00ff"/>
<path d="M346.5 97.2L350.9 94.9L350.9 99.6Z" fill="#ff00ff"/>
<path d="M348.5 96.4L352.9 94.1L352.9 98.8Z" fill="#ff00ff"/>
<path d="M350.5 95.6L354.9 93.3L354.9 98.0Z" fill="#ff00ff"/>
<path d="M352.4 94.9L356.8 92.5L356.8 97.2Z" fill="#ff00ff"/>
<path d="M354.3 94.2L358.7 91.8L358.7 96.5Z" fill="#ff00ff"/>
<path d="M356.2 93.5L360.6 91.1L360.6 95.8Z" fill="#ff00ff"/>
<path d="M358.0 92.8L362.4 90.5L362.4 95.2Z" fill="#ff00ff"/>
<path d="M359.7 92.2L364.1 89.9L364.1 94.6Z" fill="#ff00ff"/>
<path d="M361.5 91.6L365.9 89.3L365.9 94.0Z" fill="#ff00ff"/>
<path d="M363.1 91.0L367.5 88.7L367.5 93.4Z" fill="#ff00ff"/>
<path d="M364.8 90.5L369.2 88.2L369.2 92.9Z" fill="#ff00ff"/>
<path d="M366.4 90.0L370.8 87.6L370.8 92.3Z" fill="#ff00ff"/>
<path d="M368.0 89.5L372.4 87.1L372.4 91.8Z" fill="#ff00ff"/>
<path d="M369.5 89.0L373.9 86.7L373.9 91.4Z" fill="#ff00ff"/>
<path d="M371.1 88.6L375.5 86.2L375.5 90.9Z" fill="#ff00ff"/>
<path d="M372.6 88.1L377.0 85.8L377.0 90.5Z" fill="#ff00ff"/>
<path d="M374.0 87.7L378.4 85.4L378.4 90.1Z" fill="#ff00ff"/>
<path d="M375.5 87.3L379.9 85.0L379.9 89.7Z" fill="#ff00ff"/>
<path d="M376.9 87.0L381.3 84.6L381.3 89.3Z" fill="#ff00ff"/>
<path d="M378.3 86.6L382.7 84.3L382.7 89.0Z" fill="#ff00ff"/>
<path d="M379.6 86.3L384.0 83.9L384.0 88.6Z" fill="#ff00ff"/>
<path d="M381.0 85.9L385.4 83.6L385.4 88.3Z" fill="#ff00ff"/>
<path d="M382.3 85.6L386.7 83.3L386.7 88.0Z" fill="#ff00ff"/>
<path d="M383.6 85.3L388.0 83.0L388.0 87.7Z" fill="#ff00ff"/>
<path d="M384.8 85.0L389.2 82.7L389.2 87.4Z" fill="#ff00ff"/>
<path d="M386.1 84.8L390.5 82.4L390.5 87.1Z" fill="#ff00ff"/>
<path d="M387.3 84.5L391.7 82.2L391.7 86.9Z" fill="#ff00ff"/>
<path d="M388.5 84.3L392.9 81.9L392.9 86.6Z" fill="#ff00ff"/>
<path d="M389.7 84.0L394.1 81.7L394.1 86.4Z" fill="#ff00ff"/>
<path d="M390.9 83.8L395.3 81.5L395.3 86.2Z" fill="#ff00ff"/>
<path d="M392.1 83.6L396.5 81.2L396.5 85.9Z" fill="#ff00ff"/>
<path d="M393.2 83.4L397.6 81.0L397.6 85.7Z" fill="#ff00ff"/>
<path d="M394.4 83.2L398.8 80.8L398.8 85.5Z" fill="#ff00ff"/>
<path d="M395.5 83.0L399.9 80.7L399.9 85.4Z" fill="#ff00ff"/>
<path d="M396.6 82.8L401.0 80.5L401.0 85.2Z" fill="#ff00ff"/>
<path d="M397.6 82.7L402.0 80.3L402.0 85.0Z" fill="#ff00ff"/>
<path d="M398.7 82.5L403.1 80.2L403.1 84.9Z" fill="#ff00ff"/>
<path d="M399.8 82.4L404.2 80.0L404.2 84.7Z" fill="#ff00ff"/>
<path d="M400.8 82.2L405.2 79.9L405.2 84.6Z" fill="#ff00ff"/>
<path d="M401.8 82.1L406.2 79.8L406.2 84.5Z" fill="#ff00ff"/>
<path d="M402.8 82.0L407.2 79.6L407.2 84.3Z" fill="#ff00ff"/>
<path d="M403.8 81.9L408.2 79.5L408.2 84.2Z" fill="#ff00ff"/>
<path d="M404.8 81.8L409.2 79.4L409.2 84.1Z" fill="#ff00ff"/>
<path d="M405.8 81.7L410.2 79.3L410.2 84.0Z" fill="#ff00ff"/>
<path d="M406.8 81.6L411.2 79.2L411.2 83.9Z" fill="#ff00ff"/>
<path d="M407.7 81.5L412.1 79.1L412.1 83.8Z" fill="#ff00ff"/>
<path d="M408.6 81.4L413.0 79.0L413.0 83.7Z" fill="#ff00ff"/>
<path d="M409.6 81.3L414.0 79.0L414.0 83.7Z" fill="#ff00ff"/>
<path d="M410.5 81.3L414.9 78.9L414.9 83.6Z" fill="#ff00ff"/>
<path d="M411.4 81.2L415.8 78.8L415.8 83.5Z" fill="#ff00ff"/>
<path d="M412.3 81.1L416.7 78.8L416.7 83.5Z" fill="#ff00ff"/>
<path d="M413.2 81.1L417.6 78.7L417.6 83.4Z" fill="#ff00ff"/>
<path d="M414.0 81.0L418.4 78.7L418.4 83.4Z" fill="#ff00ff"/>
<path d="M414.9 81.0L419.3 78.6L419.3 83.3Z" fill="#ff00ff"/>
<path d="M415.8 81.0L420.2 78.6L420.2 83.3Z" fill="#ff00ff"/>
<path d="M416.6 80.9L421.0 78.6L421.0 83.3Z" fill="#ff00ff"/>
<path d="M417.5 80.9L421.9 78.5L421.9 83.2Z" fill="#ff00ff"/>
<path d="M418.3 80.9L422.7 78.5L422.7 83.2Z" fill="#ff00ff"/>
<path d="M419.1 80.8L423.5 78.5L423.5 83.2Z" fill="#ff00ff"/>
<path d="M419.9 80.8L424.3 78.5L424.3 83.2Z" fill="#ff00ff"/>
<path d="M420.7 80.8L425.1 78.5L425.1 83.2Z" fill="#ff00ff"/>
<path d="M421.5 80.8L425.9 78.5L425.9 83.2Z" fill="#ff00ff"/>
<path d="M64.40 273.16L65.20 272.64M67.90 270.90L69.50 269.87M72.20 268.13L73.80 267.09M76.50 265.35L78.10 264.32M80.80 262.58L82.40 261.55M85.10 259.80L86.70 258.77M89.40 257.03L91.00 256.00M93.70 254.26L95.30 253.22M98.00 251.48L99.60 250.45M102.30 248.71L103.90 247.68M106.60 245.93L108.20 244.90M110.90 243.16L112.50 242.13M115.20 240.39L116.80 239.35M119.50 237.48L121.10 236.19M123.80 234.01L125.40 232.72M128.10 230.54L129.70 229.25M132.40 227.07L134.00 225.78M136.70 223.60L138.30 222.31M141.00 220.13L142.60 218.83M145.30 216.65L146.90 215.36M149.60 213.18L150.47 212.48M150.47 212.48L151.20 211.87M153.90 209.61L155.50 208.27M158.20 206.00L159.80 204.66M162.50 202.40L164.10 201.06M166.80 198.80L168.40 197.46M171.10 195.19L172.70 193.85M175.40 191.62L177.00 190.30M179.70 188.07L181.30 186.75M184.00 184.52L185.60 183.20M188.30 180.97L189.90 179.65M192.60 177.48L194.20 176.21M196.90 174.06L198.50 172.79M201.20 170.65L202.80 169.37M205.50 167.26L207.10 166.04M209.80 164.00L211.40 162.79M214.10 160.74L215.70 159.53M218.40 157.53L220.00 156.38M222.70 154.42L224.30 153.26M227.00 151.30L227.32 151.07M227.32 151.07L228.60 150.18M231.30 148.30L232.90 147.18M235.60 145.30L236.55 144.64M236.55 144.64L237.20 144.20M239.90 142.38L241.50 141.30M244.20 139.48L244.80 139.08M244.80 139.08L245.80 138.42M248.50 136.66L250.10 135.61M252.80 133.85L254.40 132.84M257.10 131.12L258.70 130.10M261.40 128.42L263.00 127.43M265.70 125.76L267.30 124.79M270.00 123.15L271.16 122.45M271.16 122.45L271.60 122.19M274.30 120.59L275.90 119.64M278.60 118.06L280.20 117.13M282.90 115.58L284.50 114.66M287.20 113.13L288.80 112.23M291.50 110.73L293.10 109.84M295.80 108.36L297.40 107.49M300.10 106.04L301.70 105.18M304.40 103.75L306.00 102.91M308.70 101.50L310.06 100.80M310.06 100.80L310.30 100.67M313.00 99.29L313.39 99.10M313.39 99.10L314.60 98.49M317.30 97.13L318.90 96.33M321.60 95.00L322.62 94.50M322.62 94.50L323.20 94.22M325.90 92.92L327.50 92.15M330.20 90.88L330.87 90.56M330.87 90.56L331.80 90.13M334.50 88.87L335.93 88.22M335.93 88.22L336.10 88.14M338.80 86.92L340.40 86.21M343.10 85.02L344.70 84.33M347.40 83.18L349.00 82.51M351.70 81.40L353.30 80.76M356.00 79.70L357.23 79.23M357.23 79.23L357.60 79.09M360.30 78.08L360.88 77.87M360.88 77.87L361.90 77.50M364.60 76.55L366.05 76.05M366.05 76.05L366.20 76.00M368.90 75.10L369.31 74.97M369.31 74.97L370.50 74.59M373.20 73.76L373.97 73.53M373.97 73.53L374.80 73.29M377.50 72.52L378.36 72.28M378.36 72.28L379.10 72.09M381.80 71.39L382.52 71.22M382.52 71.22L383.40 71.01M386.10 70.39L386.47 70.30M386.47 70.30L387.70 70.04M390.40 69.50L391.45 69.30M391.45 69.30L392.00 69.20M394.70 68.73L394.98 68.69M394.98 68.69L396.13 68.51M396.13 68.51L396.30 68.48M399.00 68.09L399.46 68.03M399.46 68.03L400.54 67.89M400.54 67.89L400.60 67.88M403.30 67.56L403.70 67.52M403.70 67.52L404.72 67.41M404.72 67.41L404.90 67.39M407.60 67.15L407.72 67.14M407.72 67.14L408.69 67.06M408.69 67.06L409.20 67.02M411.90 66.85L412.47 66.81M412.47 66.81L413.38 66.77M413.38 66.77L413.50 66.76M416.20 66.66L416.95 66.63M416.95 66.63L417.80 66.61M420.50 66.57L421.18 66.57M421.18 66.57L422.00 66.57M422.00 66.57L422.10 66.57" fill="none" stroke="#00ffff" stroke-width="1.05"/>
<path d="M64.4 275.4L66.8 271.0L62.1 271.0Z" fill="#00ffff"/>
<path d="M118.7 240.3L121.1 235.9L116.4 235.9Z" fill="#00ffff"/>
<path d="M150.5 214.7L152.8 210.3L148.1 210.3Z" fill="#00ffff"/>
<path d="M173.0 195.8L175.4 191.4L170.7 191.4Z" fill="#00ffff"/>
<path d="M190.5 181.4L192.8 177.0L188.1 177.0Z" fill="#00ffff"/>
<path d="M204.8 170.0L207.1 165.6L202.4 165.6Z" fill="#00ffff"/>
<path d="M216.9 160.9L219.2 156.5L214.5 156.5Z" fill="#00ffff"/>
<path d="M227.3 153.3L229.7 148.9L225.0 148.9Z" fill="#00ffff"/>
<path d="M236.5 146.8L238.9 142.4L234.2 142.4Z" fill="#00ffff"/>
<path d="M244.8 141.3L247.2 136.9L242.5 136.9Z" fill="#00ffff"/>
<path d="M252.3 136.4L254.6 132.0L249.9 132.0Z" fill="#00ffff"/>
<path d="M259.1 132.1L261.4 127.7L256.7 127.7Z" fill="#00ffff"/>
<path d="M265.4 128.2L267.7 123.8L263.0 123.8Z" fill="#00ffff"/>
<path d="M271.2 124.6L273.5 120.2L268.8 120.2Z" fill="#00ffff"/>
<path d="M276.6 121.4L278.9 117.0L274.2 117.0Z" fill="#00ffff"/>
<path d="M281.6 118.5L284.0 114.1L279.3 114.1Z" fill="#00ffff"/>
<path d="M286.4 115.8L288.7 111.4L284.0 111.4Z" fill="#00ffff"/>
<path d="M290.9 113.3L293.2 108.9L288.5 108.9Z" fill="#00ffff"/>
<path d="M295.1 110.9L297.4 106.5L292.7 106.5Z" fill="#00ffff"/>
<path d="M299.1 108.8L301.5 104.4L296.8 104.4Z" fill="#00ffff"/>
<path d="M302.9 106.7L305.3 102.3L300.6 102.3Z" fill="#00ffff"/>
<path d="M306.6 104.8L308.9 100.4L304.2 100.4Z" fill="#00ffff"/>
<path d="M310.1 103.0L312.4 98.6L307.7 98.6Z" fill="#00ffff"/>
<path d="M313.4 101.3L315.7 96.9L311.0 96.9Z" fill="#00ffff"/>
<path d="M316.6 99.7L318.9 95.3L314.2 95.3Z" fill="#00ffff"/>
<path d="M319.7 98.2L322.0 93.8L317.3 93.8Z" fill="#00ffff"/>
<path d="M322.6 96.7L325.0 92.3L320.3 92.3Z" fill="#00ffff"/>
<path d="M325.5 95.3L327.8 90.9L323.1 90.9Z" fill="#00ffff"/>
<path d="M328.2 94.0L330.6 89.6L325.9 89.6Z" fill="#00ffff"/>
<path d="M330.9 92.8L333.2 88.4L328.5 88.4Z" fill="#00ffff"/>
<path d="M333.4 91.6L335.8 87.2L331.1 87.2Z" fill="#00ffff"/>
<path d="M335.9 90.4L338.3 86.0L333.6 86.0Z" fill="#00ffff"/>
<path d="M338.3 89.3L340.7 84.9L336.0 84.9Z" fill="#00ffff"/>
<path d="M340.7 88.3L343.0 83.9L338.3 83.9Z" fill="#00ffff"/>
<path d="M342.9 87.3L345.3 82.9L340.6 82.9Z" fill="#00ffff"/>
<path d="M345.2 86.3L347.5 81.9L342.8 81.9Z" fill="#00ffff"/>
<path d="M347.3 85.4L349.7 81.0L345.0 81.0Z" fill="#00ffff"/>
<path d="M349.4 84.5L351.7 80.1L347.0 80.1Z" fill="#00ffff"/>
<path d="M351.4 83.7L353.8 79.3L349.1 79.3Z" fill="#00ffff"/>
<path d="M353.4 82.9L355.8 78.5L351.1 78.5Z" fill="#00ffff"/>
<path d="M355.3 82.2L357.7 77.8L353.0 77.8Z" fill="#00ffff"/>
<path d="M357.2 81.4L359.6 77.0L354.9 77.0Z" fill="#00ffff"/>
<path d="M359.1 80.7L361.4 76.3L356.7 76.3Z" fill="#00ffff"/>
<path d="M360.9 80.1L363.2 75.7L358.5 75.7Z" fill="#00ffff"/>
<path d="M362.6 79.4L365.0 75.0L360.3 75.0Z" fill="#00ffff"/>
<path d="M364.4 78.8L366.7 74.4L362.0 74.4Z" fill="#00ffff"/>
<path d="M366.0 78.2L368.4 73.8L363.7 73.8Z" fill="#00ffff"/>
<path d="M367.7 77.7L370.0 73.3L365.3 73.3Z" fill="#00ffff"/>
<path d="M369.3 77.2L371.7 72.8L367.0 72.8Z" fill="#00ffff"/>
<path d="M370.9 76.7L373.2 72.3L368.5 72.3Z" fill="#00ffff"/>
<path d="M372.4 76.2L374.8 71.8L370.1 71.8Z" fill="#00ffff"/>
<path d="M374.0 75.7L376.3 71.3L371.6 71.3Z" fill="#00ffff"/>
<path d="M375.5 75.3L377.8 70.9L373.1 70.9Z" fill="#00ffff"/>
<path d="M376.9 74.9L379.3 70.5L374.6 70.5Z" fill="#00ffff"/>
<path d="M378.4 74.5L380.7 70.1L376.0 70.1Z" fill="#00ffff"/>
<path d="M379.8 74.1L382.1 69.7L377.4 69.7Z" fill="#00ffff"/>
<path d="M381.2 73.8L383.5 69.4L378.8 69.4Z" fill="#00ffff"/>
<path d="M382.5 73.4L384.9 69.0L380.2 69.0Z" fill="#00ffff"/>
<path d="M383.9 73.1L386.2 68.7L381.5 68.7Z" fill="#00ffff"/>
<path d="M385.2 72.8L387.5 68.4L382.8 68.4Z" fill="#00ffff"/>
<path d="M386.5 72.5L388.8 68.1L384.1 68.1Z" fill="#00ffff"/>
<path d="M387.7 72.2L390.1 67.8L385.4 67.8Z" fill="#00ffff"/>
<path d="M389.0 72.0L391.4 67.6L386.7 67.6Z" fill="#00ffff"/>
<path d="M390.2 71.7L392.6 67.3L387.9 67.3Z" fill="#00ffff"/>
<path d="M391.4 71.5L393.8 67.1L389.1 67.1Z" fill="#00ffff"/>
<path d="M392.6 71.3L395.0 66.9L390.3 66.9Z" fill="#00ffff"/>
<path d="M393.8 71.1L396.2 66.7L391.5 66.7Z" fill="#00ffff"/>
<path d="M395.0 70.9L397.3 66.5L392.6 66.5Z" fill="#00ffff"/>
<path d="M396.1 70.7L398.5 66.3L393.8 66.3Z" fill="#00ffff"/>
<path d="M397.3 70.5L399.6 66.1L394.9 66.1Z" fill="#00ffff"/>
<path d="M398.4 70.4L400.7 66.0L396.0 66.0Z" fill="#00ffff"/>
<path d="M399.5 70.2L401.8 65.8L397.1 65.8Z" fill="#00ffff"/>
<path d="M400.5 70.1L402.9 65.7L398.2 65.7Z" fill="#00ffff"/>
<path d="M401.6 70.0L404.0 65.6L399.3 65.6Z" fill="#00ffff"/>
<path d="M402.7 69.8L405.0 65.4L400.3 65.4Z" fill="#00ffff"/>
<path d="M403.7 69.7L406.0 65.3L401.3 65.3Z" fill="#00ffff"/>
<path d="M404.7 69.6L407.1 65.2L402.4 65.2Z" fill="#00ffff"/>
<path d="M405.7 69.5L408.1 65.1L403.4 65.1Z" fill="#00ffff"/>
<path d="M406.7 69.4L409.1 65.0L404.4 65.0Z" fill="#00ffff"/>
<path d="M407.7 69.3L410.1 64.9L405.4 64.9Z" fill="#00ffff"/>
<path d="M408.7 69.3L411.0 64.9L406.3 64.9Z" fill="#00ffff"/>
<path d="M409.7 69.2L412.0 64.8L407.3 64.8Z" fill="#00ffff"/>
<path d="M410.6 69.1L413.0 64.7L408.3 64.7Z" fill="#00ffff"/>
<path d="M411.5 69.1L413.9 64.7L409.2 64.7Z" fill="#00ffff"/>
<path d="M412.5 69.0L414.8 64.6L410.1 64.6Z" fill="#00ffff"/>
<path d="M413.4 69.0L415.7 64.6L411.0 64.6Z" fill="#00ffff"/>
<path d="M414.3 68.9L416.6 64.5L411.9 64.5Z" fill="#00ffff"/>
<path d="M415.2 68.9L417.5 64.5L412.8 64.5Z" fill="#00ffff"/>
<path d="M416.1 68.9L418.4 64.5L413.7 64.5Z" fill="#00ffff"/>
<path d="M416.9 68.8L419.3 64.4L414.6 64.4Z" fill="#00ffff"/>
<path d="M417.8 68.8L420.2 64.4L415.5 64.4Z" fill="#00ffff"/>
<path d="M418.7 68.8L421.0 64.4L416.3 64.4Z" fill="#00ffff"/>
<path d="M419.5 68.8L421.9 64.4L417.2 64.4Z" fill="#00ffff"/>
<path d="M420.4 68.8L422.7 64.4L418.0 64.4Z" fill="#00ffff"/>
<path d="M421.2 68.8L423.5 64.4L418.8 64.4Z" fill="#00ffff"/>
<path d="M422.0 68.8L424.4 64.4L419.7 64.4Z" fill="#00ffff"/>
<path d="M422.8 68.8L425.2 64.4L420.5 64.4Z" fill="#00ffff"/>
<path d="M423.6 68.8L426.0 64.4L421.3 64.4Z" fill="#00ffff"/>
<path d="M424.4 68.8L426.8 64.4L422.1 64.4Z" fill="#00ffff"/>
<path d="M118.71 186.97L119.51 186.38M122.21 184.40L123.81 183.22M126.51 181.23L128.11 180.05M130.81 178.07L132.41 176.89M135.11 174.90L136.71 173.72M139.41 171.73L141.01 170.56M143.71 168.57L145.31 167.39M148.01 165.40L149.61 164.23M152.31 162.41L153.91 161.37M156.61 159.63L158.21 158.60M160.91 156.86L162.51 155.83M165.21 154.09L166.81 153.06M169.51 151.31L171.11 150.28M173.81 148.59L175.41 147.64M178.11 146.05L179.71 145.10M182.41 143.51L184.01 142.56M186.71 140.97L188.31 140.02M191.01 138.45L192.61 137.56M195.31 136.06L196.91 135.17M199.61 133.67L201.21 132.79M203.91 131.29L204.78 130.80M204.78 130.80L205.51 130.42M208.21 128.98L209.81 128.13M212.51 126.70L214.11 125.85M216.81 124.42L216.86 124.39M216.86 124.39L218.41 123.59M221.11 122.21L222.71 121.38M225.41 120.00L227.01 119.17M229.71 117.81L231.31 117.01M234.01 115.66L235.61 114.85M238.31 113.51L239.91 112.72M242.61 111.39L244.21 110.60M246.91 109.28L248.51 108.50M251.21 107.18L252.27 106.67M252.27 106.67L252.81 106.40M255.51 105.10L257.11 104.32M259.81 103.02L261.41 102.25M264.11 100.95L265.36 100.35M265.36 100.35L265.71 100.18M268.41 98.88L270.01 98.11M272.71 96.82L274.31 96.05M277.01 94.75L278.61 93.98M281.31 92.68L281.62 92.53M281.62 92.53L282.91 91.91M285.61 90.61L286.37 90.24M286.37 90.24L287.21 89.84M289.91 88.53L290.85 88.07M290.85 88.07L291.51 87.75M294.21 86.44L295.09 86.01M295.09 86.01L295.81 85.66M298.51 84.35L299.11 84.06M299.11 84.06L300.11 83.57M302.81 82.26L302.93 82.20M302.93 82.20L304.41 81.48M307.11 80.17L308.71 79.40M311.41 78.10L313.01 77.33M315.71 76.04L316.59 75.61M316.59 75.61L317.31 75.27M320.01 74.00L321.61 73.25M324.31 71.99L325.47 71.45M325.47 71.45L325.91 71.25M328.61 70.01L330.21 69.28M332.91 68.07L333.44 67.83M333.44 67.83L334.51 67.35M337.21 66.17L338.34 65.67M338.34 65.67L338.81 65.47M341.51 64.32L342.95 63.71M342.95 63.71L343.11 63.64M345.81 62.52L347.30 61.91M347.30 61.91L347.41 61.87M350.11 60.79L351.43 60.26M351.43 60.26L351.71 60.16M354.41 59.11L355.35 58.76M355.35 58.76L356.01 58.51M358.71 57.51L359.08 57.38M359.08 57.38L360.31 56.93M363.01 55.98L364.36 55.52M364.36 55.52L364.61 55.44M367.31 54.54L367.70 54.41M367.70 54.41L368.91 54.02M371.61 53.18L372.45 52.92M372.45 52.92L373.21 52.70M375.91 51.91L376.92 51.62M376.92 51.62L377.51 51.46M380.21 50.74L381.16 50.49M381.16 50.49L381.81 50.33M384.51 49.67L385.18 49.51M385.18 49.51L386.11 49.30M388.81 48.70L389.00 48.66M389.00 48.66L390.23 48.41M390.23 48.41L390.41 48.37M393.11 47.86L393.82 47.72M393.82 47.72L394.71 47.57M397.41 47.12L398.37 46.98M398.37 46.98L399.01 46.88M401.71 46.52L402.66 46.40M402.66 46.40L403.31 46.32M406.01 46.04L406.73 45.97M406.73 45.97L407.61 45.89M410.31 45.69L410.60 45.67M410.60 45.67L411.54 45.62M411.54 45.62L411.91 45.60M414.61 45.49L415.18 45.47M415.18 45.47L416.07 45.45M416.07 45.45L416.21 45.45M418.91 45.43L419.51 45.43M419.51 45.43L420.35 45.44M420.35 45.44L420.51 45.44M423.21 45.52L423.62 45.53M423.62 45.53L424.41 45.57" fill="none" stroke="#0000ff" stroke-width="1.05"/>
<path d="M118.7 184.8L121.1 189.2L116.4 189.2Z" fill="#0000ff"/>
<path d="M150.5 161.4L152.8 165.8L148.1 165.8Z" fill="#0000ff"/>
<path d="M173.0 146.9L175.4 151.3L170.7 151.3Z" fill="#0000ff"/>
<path d="M190.5 136.5L192.8 140.9L188.1 140.9Z" fill="#0000ff"/>
<path d="M204.8 128.6L207.1 133.0L202.4 133.0Z" fill="#0000ff"/>
<path d="M216.9 122.2L219.2 126.6L214.5 126.6Z" fill="#0000ff"/>
<path d="M227.3 116.8L229.7 121.2L225.0 121.2Z" fill="#0000ff"/>
<path d="M236.5 112.2L238.9 116.6L234.2 116.6Z" fill="#0000ff"/>
<path d="M244.8 108.1L247.2 112.5L242.5 112.5Z" fill="#0000ff"/>
<path d="M252.3 104.5L254.6 108.9L249.9 108.9Z" fill="#0000ff"/>
<path d="M259.1 101.2L261.4 105.6L256.7 105.6Z" fill="#0000ff"/>
<path d="M265.4 98.1L267.7 102.5L263.0 102.5Z" fill="#0000ff"/>
<path d="M271.2 95.4L273.5 99.8L268.8 99.8Z" fill="#0000ff"/>
<path d="M276.6 92.8L278.9 97.2L274.2 97.2Z" fill="#0000ff"/>
<path d="M281.6 90.3L284.0 94.7L279.3 94.7Z" fill="#0000ff"/>
<path d="M286.4 88.0L288.7 92.4L284.0 92.4Z" fill="#0000ff"/>
<path d="M290.9 85.9L293.2 90.3L288.5 90.3Z" fill="#0000ff"/>
<path d="M295.1 83.8L297.4 88.2L292.7 88.2Z" fill="#0000ff"/>
<path d="M299.1 81.9L301.5 86.3L296.8 86.3Z" fill="#0000ff"/>
<path d="M302.9 80.0L305.3 84.4L300.6 84.4Z" fill="#0000ff"/>
<path d="M306.6 78.2L308.9 82.6L304.2 82.6Z" fill="#0000ff"/>
<path d="M310.1 76.5L312.4 80.9L307.7 80.9Z" fill="#0000ff"/>
<path d="M313.4 74.9L315.7 79.3L311.0 79.3Z" fill="#0000ff"/>
<path d="M316.6 73.4L318.9 77.8L314.2 77.8Z" fill="#0000ff"/>
<path d="M319.7 72.0L322.0 76.4L317.3 76.4Z" fill="#0000ff"/>
<path d="M322.6 70.6L325.0 75.0L320.3 75.0Z" fill="#0000ff"/>
<path d="M325.5 69.2L327.8 73.6L323.1 73.6Z" fill="#0000ff"/>
<path d="M328.2 68.0L330.6 72.4L325.9 72.4Z" fill="#0000ff"/>
<path d="M330.9 66.8L333.2 71.2L328.5 71.2Z" fill="#0000ff"/>
<path d="M333.4 65.6L335.8 70.0L331.1 70.0Z" fill="#0000ff"/>
<path d="M335.9 64.5L338.3 68.9L333.6 68.9Z" fill="#0000ff"/>
<path d="M338.3 63.5L340.7 67.9L336.0 67.9Z" fill="#0000ff"/>
<path d="M340.7 62.5L343.0 66.9L338.3 66.9Z" fill="#0000ff"/>
<path d="M342.9 61.5L345.3 65.9L340.6 65.9Z" fill="#0000ff"/>
<path d="M345.2 60.6L347.5 65.0L342.8 65.0Z" fill="#0000ff"/>
<path d="M347.3 59.7L349.7 64.1L345.0 64.1Z" fill="#0000ff"/>
<path d="M349.4 58.9L351.7 63.3L347.0 63.3Z" fill="#0000ff"/>
<path d="M351.4 58.1L353.8 62.5L349.1 62.5Z" fill="#0000ff"/>
<path d="M353.4 57.3L355.8 61.7L351.1 61.7Z" fill="#0000ff"/>
<path d="M355.3 56.6L357.7 61.0L353.0 61.0Z" fill="#0000ff"/>
<path d="M357.2 55.9L359.6 60.3L354.9 60.3Z" fill="#0000ff"/>
<path d="M359.1 55.2L361.4 59.6L356.7 59.6Z" fill="#0000ff"/>
<path d="M360.9 54.5L363.2 58.9L358.5 58.9Z" fill="#0000ff"/>
<path d="M362.6 53.9L365.0 58.3L360.3 58.3Z" fill="#0000ff"/>
<path d="M364.4 53.3L366.7 57.7L362.0 57.7Z" fill="#0000ff"/>
<path d="M366.0 52.8L368.4 57.2L363.7 57.2Z" fill="#0000ff"/>
<path d="M367.7 52.2L370.0 56.6L365.3 56.6Z" fill="#0000ff"/>
<path d="M369.3 51.7L371.7 56.1L367.0 56.1Z" fill="#0000ff"/>
<path d="M370.9 51.2L373.2 55.6L368.5 55.6Z" fill="#0000ff"/>
<path d="M372.4 50.7L374.8 55.1L370.1 55.1Z" fill="#0000ff"/>
<path d="M374.0 50.3L376.3 54.7L371.6 54.7Z" fill="#0000ff"/>
<path d="M375.5 49.8L377.8 54.2L373.1 54.2Z" fill="#0000ff"/>
<path d="M376.9 49.4L379.3 53.8L374.6 53.8Z" fill="#0000ff"/>
<path d="M378.4 49.0L380.7 53.4L376.0 53.4Z" fill="#0000ff"/>
<path d="M379.8 48.6L382.1 53.0L377.4 53.0Z" fill="#0000ff"/>
<path d="M381.2 48.3L383.5 52.7L378.8 52.7Z" fill="#0000ff"/>
<path d="M382.5 47.9L384.9 52.3L380.2 52.3Z" fill="#0000ff"/>
<path d="M383.9 47.6L386.2 52.0L381.5 52.0Z" fill="#0000ff"/>
<path d="M385.2 47.3L387.5 51.7L382.8 51.7Z" fill="#0000ff"/>
<path d="M386.5 47.0L388.8 51.4L384.1 51.4Z" fill="#0000ff"/>
<path d="M387.7 46.7L390.1 51.1L385.4 51.1Z" fill="#0000ff"/>
<path d="M389.0 46.5L391.4 50.9L386.7 50.9Z" fill="#0000ff"/>
<path d="M390.2 46.2L392.6 50.6L387.9 50.6Z" fill="#0000ff"/>
<path d="M391.4 46.0L393.8 50.4L389.1 50.4Z" fill="#0000ff"/>
<path d="M392.6 45.7L395.0 50.1L390.3 50.1Z" fill="#0000ff"/>
<path d="M393.8 45.5L396.2 49.9L391.5 49.9Z" fill="#0000ff"/>
<path d="M395.0 45.3L397.3 49.7L392.6 49.7Z" fill="#0000ff"/>
<path d="M396.1 45.1L398.5 49.5L393.8 49.5Z" fill="#0000ff"/>
<path d="M397.3 44.9L399.6 49.3L394.9 49.3Z" fill="#0000ff"/>
<path d="M398.4 44.8L400.7 49.2L396.0 49.2Z" fill="#0000ff"/>
<path d="M399.5 44.6L401.8 49.0L397.1 49.0Z" fill="#0000ff"/>
<path d="M400.5 44.5L402.9 48.9L398.2 48.9Z" fill="#0000ff"/>
<path d="M401.6 44.3L404.0 48.7L399.3 48.7Z" fill="#0000ff"/>
<path d="M402.7 44.2L405.0 48.6L400.3 48.6Z" fill="#0000ff"/>
<path d="M403.7 44.1L406.0 48.5L401.3 48.5Z" fill="#0000ff"/>
<path d="M404.7 44.0L407.1 48.4L402.4 48.4Z" fill="#0000ff"/>
<path d="M405.7 43.9L408.1 48.3L403.4 48.3Z" fill="#0000ff"/>
<path d="M406.7 43.8L409.1 48.2L404.4 48.2Z" fill="#0000ff"/>
<path d="M407.7 43.7L410.1 48.1L405.4 48.1Z" fill="#0000ff"/>
<path d="M408.7 43.6L411.0 48.0L406.3 48.0Z" fill="#0000ff"/>
<path d="M409.7 43.5L412.0 47.9L407.3 47.9Z" fill="#0000ff"/>
<path d="M410.6 43.5L413.0 47.9L408.3 47.9Z" fill="#0000ff"/>
<path d="M411.5 43.4L413.9 47.8L409.2 47.8Z" fill="#0000ff"/>
<path d="M412.5 43.4L414.8 47.8L410.1 47.8Z" fill="#0000ff"/>
<path d="M413.4 43.3L415.7 47.7L411.0 47.7Z" fill="#0000ff"/>
<path d="M414.3 43.3L416.6 47.7L411.9 47.7Z" fill="#0000ff"/>
<path d="M415.2 43.3L417.5 47.7L412.8 47.7Z" fill="#0000ff"/>
<path d="M416.1 43.2L418.4 47.6L413.7 47.6Z" fill="#0000ff"/>
<path d="M416.9 43.2L419.3 47.6L414.6 47.6Z" fill="#0000ff"/>
<path d="M417.8 43.2L420.2 47.6L415.5 47.6Z" fill="#0000ff"/>
<path d="M418.7 43.2L421.0 47.6L416.3 47.6Z" fill="#0000ff"/>
<path d="M419.5 43.2L421.9 47.6L417.2 47.6Z" fill="#0000ff"/>
<path d="M420.4 43.2L422.7 47.6L418.0 47.6Z" fill="#0000ff"/>
<path d="M421.2 43.3L423.5 47.7L418.8 47.7Z" fill="#0000ff"/>
<path d="M422.0 43.3L424.4 47.7L419.7 47.7Z" fill="#0000ff"/>
<path d="M422.8 43.3L425.2 47.7L420.5 47.7Z" fill="#0000ff"/>
<path d="M423.6 43.3L426.0 47.7L421.3 47.7Z" fill="#0000ff"/>
<path d="M424.4 43.4L426.8 47.8L422.1 47.8Z" fill="#0000ff"/>
<path d="M64.40 172.77L65.20 172.40M67.90 171.16L69.50 170.43M72.20 169.19L73.80 168.45M76.50 167.22L78.10 166.48M80.80 165.24L82.40 164.51M85.10 163.27L86.70 162.53M89.40 161.29L91.00 160.56M93.70 159.32L95.30 158.59M98.00 157.35L99.60 156.61M102.30 155.37L103.90 154.64M106.60 153.40L108.20 152.67M110.90 151.43L112.50 150.69M115.20 149.45L116.80 148.72M119.50 147.50L121.10 146.82M123.80 145.67L125.40 144.98M128.10 143.83L129.70 143.14M132.40 141.99L134.00 141.30M136.70 140.15L138.30 139.47M141.00 138.31L142.60 137.63M145.30 136.47L146.90 135.79M149.60 134.63L150.47 134.26M150.47 134.26L151.20 133.96M153.90 132.83L155.50 132.17M158.20 131.04L159.80 130.38M162.50 129.25L164.10 128.58M166.80 127.46L168.40 126.79M171.10 125.67L172.70 125.00M175.40 123.89L177.00 123.23M179.70 122.11L181.30 121.45M184.00 120.34L185.60 119.68M188.30 118.56L189.90 117.90M192.60 116.79L194.20 116.13M196.90 115.02L198.50 114.36M201.20 113.25L202.80 112.59M205.50 111.47L207.10 110.81M209.80 109.70L211.40 109.04M214.10 107.92L215.70 107.26M218.40 106.14L220.00 105.47M222.70 104.35L224.30 103.69M227.00 102.56L227.32 102.43M227.32 102.43L228.60 101.89M231.30 100.76L232.90 100.09M235.60 98.96L236.55 98.57M236.55 98.57L237.20 98.29M239.90 97.15L241.50 96.48M244.20 95.34L244.80 95.08M244.80 95.08L245.80 94.66M248.50 93.51L250.10 92.83M252.80 91.68L254.40 90.99M257.10 89.83L258.70 89.15M261.40 87.98L263.00 87.28M265.70 86.11L267.30 85.41M270.00 84.23L271.16 83.73M271.16 83.73L271.60 83.53M274.30 82.34L275.90 81.64M278.60 80.44L280.20 79.73M282.90 78.52L284.50 77.80M287.20 76.59L288.80 75.87M291.50 74.65L293.10 73.92M295.80 72.69L297.40 71.96M300.10 70.73L301.70 70.00M304.40 68.76L306.00 68.03M308.70 66.79L310.06 66.16M310.06 66.16L310.30 66.05M313.00 64.81L313.39 64.63M313.39 64.63L314.60 64.07M317.30 62.83L318.90 62.09M321.60 60.85L322.62 60.38M322.62 60.38L323.20 60.11M325.90 58.87L327.50 58.14M330.20 56.90L330.87 56.59M330.87 56.59L331.80 56.16M334.50 54.93L335.93 54.28M335.93 54.28L336.10 54.20M338.80 52.97L340.40 52.24M343.10 51.02L344.70 50.29M347.40 49.08L349.00 48.37M351.70 47.20L353.30 46.51M356.00 45.40L357.23 44.90M357.23 44.90L357.60 44.76M360.30 43.72L360.88 43.50M360.88 43.50L361.90 43.14M364.60 42.20L366.05 41.73M366.05 41.73L366.20 41.68M368.90 40.88L369.31 40.76M369.31 40.76L370.50 40.45M373.20 39.79L373.97 39.62M373.97 39.62L374.80 39.44M377.50 38.93L378.36 38.77M378.36 38.77L379.10 38.65M381.80 38.25L382.52 38.15M382.52 38.15L383.40 38.04M386.10 37.73L386.47 37.68M386.47 37.68L387.70 37.56M390.40 37.31L391.45 37.22M391.45 37.22L392.00 37.18M394.70 36.97L394.98 36.95M394.98 36.95L396.13 36.86M396.13 36.86L396.30 36.85M399.00 36.66L399.46 36.63M399.46 36.63L400.54 36.55M400.54 36.55L400.60 36.55M403.30 36.36L403.70 36.33M403.70 36.33L404.72 36.26M404.72 36.26L404.90 36.25M407.60 36.06L407.72 36.05M407.72 36.05L408.69 35.98M408.69 35.98L409.20 35.95M411.90 35.76L412.47 35.72M412.47 35.72L413.38 35.66M413.38 35.66L413.50 35.65M416.20 35.47L416.95 35.41M416.95 35.41L417.80 35.35M420.50 35.16L421.18 35.11M421.18 35.11L422.00 35.06M422.00 35.06L422.10 35.05" fill="none" stroke="#00ff00" stroke-width="1.05"/>
<rect x="62.5" y="170.9" width="3.8" height="3.8" fill="#00ff00"/>
<rect x="116.8" y="145.9" width="3.8" height="3.8" fill="#00ff00"/>
<rect x="148.6" y="132.4" width="3.8" height="3.8" fill="#00ff00"/>
<rect x="171.1" y="123.0" width="3.8" height="3.8" fill="#00ff00"/>
<rect x="188.6" y="115.8" width="3.8" height="3.8" fill="#00ff00"/>
<rect x="202.9" y="109.9" width="3.8" height="3.8" fill="#00ff00"/>
<rect x="215.0" y="104.9" width="3.8" height="3.8" fill="#00ff00"/>
<rect x="225.4" y="100.5" width="3.8" height="3.8" fill="#00ff00"/>
<rect x="234.6" y="96.7" width="3.8" height="3.8" fill="#00ff00"/>
<rect x="242.9" y="93.2" width="3.8" height="3.8" fill="#00ff00"/>
<rect x="250.4" y="90.0" width="3.8" height="3.8" fill="#00ff00"/>
<rect x="257.2" y="87.1" width="3.8" height="3.8" fill="#00ff00"/>
<rect x="263.5" y="84.4" width="3.8" height="3.8" fill="#00ff00"/>
<rect x="269.3" y="81.8" width="3.8" height="3.8" fill="#00ff00"/>
<rect x="274.7" y="79.4" width="3.8" height="3.8" fill="#00ff00"/>
<rect x="279.7" y="77.2" width="3.8" height="3.8" fill="#00ff00"/>
<rect x="284.5" y="75.1" width="3.8" height="3.8" fill="#00ff00"/>
<rect x="289.0" y="73.0" width="3.8" height="3.8" fill="#00ff00"/>
<rect x="293.2" y="71.1" width="3.8" height="3.8" fill="#00ff00"/>
<rect x="297.2" y="69.3" width="3.8" height="3.8" fill="#00ff00"/>
<rect x="301.0" y="67.5" width="3.8" height="3.8" fill="#00ff00"/>
<rect x="304.7" y="65.9" width="3.8" height="3.8" fill="#00ff00"/>
<rect x="308.2" y="64.3" width="3.8" height="3.8" fill="#00ff00"/>
<rect x="311.5" y="62.7" width="3.8" height="3.8" fill="#00ff00"/>
<rect x="314.7" y="61.3" width="3.8" height="3.8" fill="#00ff00"/>
<rect x="317.8" y="59.8" width="3.8" height="3.8" fill="#00ff00"/>
<rect x="320.7" y="58.5" width="3.8" height="3.8" fill="#00ff00"/>
<rect x="323.6" y="57.2" width="3.8" height="3.8" fill="#00ff00"/>
<rect x="326.3" y="55.9" width="3.8" height="3.8" fill="#00ff00"/>
<rect x="329.0" y="54.7" width="3.8" height="3.8" fill="#00ff00"/>
<rect x="331.5" y="53.5" width="3.8" height="3.8" fill="#00ff00"/>
<rect x="334.0" y="52.4" width="3.8" height="3.8" fill="#00ff00"/>
<rect x="336.4" y="51.3" width="3.8" height="3.8" fill="#00ff00"/>
<rect x="338.8" y="50.2" width="3.8" height="3.8" fill="#00ff00"/>
<rect x="341.0" y="49.2" width="3.8" height="3.8" fill="#00ff00"/>
<rect x="343.3" y="48.2" width="3.8" height="3.8" fill="#00ff00"/>
<rect x="345.4" y="47.2" width="3.8" height="3.8" fill="#00ff00"/>
<rect x="347.5" y="46.3" width="3.8" height="3.8" fill="#00ff00"/>
<rect x="349.5" y="45.4" width="3.8" height="3.8" fill="#00ff00"/>
<rect x="351.5" y="44.6" width="3.8" height="3.8" fill="#00ff00"/>
<rect x="353.4" y="43.8" width="3.8" height="3.8" fill="#00ff00"/>
<rect x="355.3" y="43.0" width="3.8" height="3.8" fill="#00ff00"/>
<rect x="357.2" y="42.3" width="3.8" height="3.8" fill="#00ff00"/>
<rect x="359.0" y="41.6" width="3.8" height="3.8" fill="#00ff00"/>
<rect x="360.7" y="41.0" width="3.8" height="3.8" fill="#00ff00"/>
<rect x="362.5" y="40.4" width="3.8" height="3.8" fill="#00ff00"/>
<rect x="364.1" y="39.8" width="3.8" height="3.8" fill="#00ff00"/>
<rect x="365.8" y="39.3" width="3.8" height="3.8" fill="#00ff00"/>
<rect x="367.4" y="38.9" width="3.8" height="3.8" fill="#00ff00"/>
<rect x="369.0" y="38.4" width="3.8" height="3.8" fill="#00ff00"/>
<rect x="370.5" y="38.1" width="3.8" height="3.8" fill="#00ff00"/>
<rect x="372.1" y="37.7" width="3.8" height="3.8" fill="#00ff00"/>
<rect x="373.6" y="37.4" width="3.8" height="3.8" fill="#00ff00"/>
<rect x="375.0" y="37.1" width="3.8" height="3.8" fill="#00ff00"/>
<rect x="376.5" y="36.9" width="3.8" height="3.8" fill="#00ff00"/>
<rect x="377.9" y="36.6" width="3.8" height="3.8" fill="#00ff00"/>
<rect x="379.3" y="36.4" width="3.8" height="3.8" fill="#00ff00"/>
<rect x="380.6" y="36.3" width="3.8" height="3.8" fill="#00ff00"/>
<rect x="382.0" y="36.1" width="3.8" height="3.8" fill="#00ff00"/>
<rect x="383.3" y="35.9" width="3.8" height="3.8" fill="#00ff00"/>
<rect x="384.6" y="35.8" width="3.8" height="3.8" fill="#00ff00"/>
<rect x="385.8" y="35.7" width="3.8" height="3.8" fill="#00ff00"/>
<rect x="387.1" y="35.5" width="3.8" height="3.8" fill="#00ff00"/>
<rect x="388.3" y="35.4" width="3.8" height="3.8" fill="#00ff00"/>
<rect x="389.5" y="35.3" width="3.8" height="3.8" fill="#00ff00"/>
<rect x="390.7" y="35.2" width="3.8" height="3.8" fill="#00ff00"/>
<rect x="391.9" y="35.1" width="3.8" height="3.8" fill="#00ff00"/>
<rect x="393.1" y="35.0" width="3.8" height="3.8" fill="#00ff00"/>
<rect x="394.2" y="35.0" width="3.8" height="3.8" fill="#00ff00"/>
<rect x="395.4" y="34.9" width="3.8" height="3.8" fill="#00ff00"/>
<rect x="396.5" y="34.8" width="3.8" height="3.8" fill="#00ff00"/>
<rect x="397.6" y="34.7" width="3.8" height="3.8" fill="#00ff00"/>
<rect x="398.6" y="34.6" width="3.8" height="3.8" fill="#00ff00"/>
<rect x="399.7" y="34.6" width="3.8" height="3.8" fill="#00ff00"/>
<rect x="400.8" y="34.5" width="3.8" height="3.8" fill="#00ff00"/>
<rect x="401.8" y="34.4" width="3.8" height="3.8" fill="#00ff00"/>
<rect x="402.8" y="34.4" width="3.8" height="3.8" fill="#00ff00"/>
<rect x="403.8" y="34.3" width="3.8" height="3.8" fill="#00ff00"/>
<rect x="404.8" y="34.2" width="3.8" height="3.8" fill="#00ff00"/>
<rect x="405.8" y="34.2" width="3.8" height="3.8" fill="#00ff00"/>
<rect x="406.8" y="34.1" width="3.8" height="3.8" fill="#00ff00"/>
<rect x="407.8" y="34.0" width="3.8" height="3.8" fill="#00ff00"/>
<rect x="408.7" y="34.0" width="3.8" height="3.8" fill="#00ff00"/>
<rect x="409.6" y="33.9" width="3.8" height="3.8" fill="#00ff00"/>
<rect x="410.6" y="33.8" width="3.8" height="3.8" fill="#00ff00"/>
<rect x="411.5" y="33.8" width="3.8" height="3.8" fill="#00ff00"/>
<rect x="412.4" y="33.7" width="3.8" height="3.8" fill="#00ff00"/>
<rect x="413.3" y="33.6" width="3.8" height="3.8" fill="#00ff00"/>
<rect x="414.2" y="33.6" width="3.8" height="3.8" fill="#00ff00"/>
<rect x="415.0" y="33.5" width="3.8" height="3.8" fill="#00ff00"/>
<rect x="415.9" y="33.5" width="3.8" height="3.8" fill="#00ff00"/>
<rect x="416.8" y="33.4" width="3.8" height="3.8" fill="#00ff00"/>
<rect x="417.6" y="33.3" width="3.8" height="3.8" fill="#00ff00"/>
<rect x="418.5" y="33.3" width="3.8" height="3.8" fill="#00ff00"/>
<rect x="419.3" y="33.2" width="3.8" height="3.8" fill="#00ff00"/>
<rect x="420.1" y="33.2" width="3.8" height="3.8" fill="#00ff00"/>
<rect x="420.9" y="33.1" width="3.8" height="3.8" fill="#00ff00"/>
<rect x="421.7" y="33.0" width="3.8" height="3.8" fill="#00ff00"/>
<rect x="422.5" y="33.0" width="3.8" height="3.8" fill="#00ff00"/>
<path d="M64.40 134.68L65.20 134.46M67.90 133.71L69.50 133.27M72.20 132.53L73.80 132.08M76.50 131.34L78.10 130.90M80.80 130.15L82.40 129.71M85.10 128.96L86.70 128.52M89.40 127.77L91.00 127.33M93.70 126.58L95.30 126.14M98.00 125.40L99.60 124.95M102.30 124.21L103.90 123.77M106.60 123.02L108.20 122.58M110.90 121.83L112.50 121.39M115.20 120.64L116.80 120.20M119.50 119.46L121.10 119.02M123.80 118.27L125.40 117.83M128.10 117.09L129.70 116.65M132.40 115.90L134.00 115.46M136.70 114.72L138.30 114.28M141.00 113.53L142.60 113.09M145.30 112.35L146.90 111.91M149.60 111.16L150.47 110.92M150.47 110.92L151.20 110.72M153.90 109.95L155.50 109.50M158.20 108.74L159.80 108.29M162.50 107.53L164.10 107.08M166.80 106.31L168.40 105.86M171.10 105.10L172.70 104.65M175.40 103.86L177.00 103.40M179.70 102.61L181.30 102.15M184.00 101.36L185.60 100.90M188.30 100.11L189.90 99.65M192.60 98.84L194.20 98.36M196.90 97.56L198.50 97.08M201.20 96.27L202.80 95.79M205.50 94.97L207.10 94.48M209.80 93.64L211.40 93.15M214.10 92.32L215.70 91.82M218.40 90.98L220.00 90.47M222.70 89.62L224.30 89.11M227.00 88.25L227.32 88.15M227.32 88.15L228.60 87.73M231.30 86.86L232.90 86.34M235.60 85.46L236.55 85.15M236.55 85.15L237.20 84.93M239.90 84.03L241.50 83.50M244.20 82.60L244.80 82.40M244.80 82.40L245.80 82.06M248.50 81.14L250.10 80.59M252.80 79.67L254.40 79.11M257.10 78.17L258.70 77.62M261.40 76.66L263.00 76.09M265.70 75.13L267.30 74.55M270.00 73.57L271.16 73.15M271.16 73.15L271.60 72.99M274.30 72.00L275.90 71.41M278.60 70.40L280.20 69.80M282.90 68.78L284.50 68.17M287.20 67.14L288.80 66.53M291.50 65.48L293.10 64.86M295.80 63.81L297.40 63.19M300.10 62.14L301.70 61.51M304.40 60.46L306.00 59.83M308.70 58.78L310.06 58.25M310.06 58.25L310.30 58.16M313.00 57.11L313.39 56.96M313.39 56.96L314.60 56.49M317.30 55.45L318.90 54.83M321.60 53.80L322.62 53.41M322.62 53.41L323.20 53.20M325.90 52.18L327.50 51.58M330.20 50.58L330.87 50.33M330.87 50.33L331.80 49.99M334.50 49.01L335.93 48.50M335.93 48.50L336.10 48.43M338.80 47.48L340.40 46.92M343.10 45.98L344.70 45.44M347.40 44.53L349.00 44.01M351.70 43.14L353.30 42.63M356.00 41.80L357.23 41.43M357.23 41.43L357.60 41.32M360.30 40.54L360.88 40.38M360.88 40.38L361.90 40.09M364.60 39.36L366.05 38.99M366.05 38.99L366.20 38.95M368.90 38.28L369.31 38.18M369.31 38.18L370.50 37.90M373.20 37.29L373.97 37.12M373.97 37.12L374.80 36.95M377.50 36.41L378.36 36.24M378.36 36.24L379.10 36.10M381.80 35.63L382.52 35.50M382.52 35.50L383.40 35.36M386.10 34.95L386.47 34.90M386.47 34.90L387.70 34.72M390.40 34.38L391.45 34.25M391.45 34.25L392.00 34.19M394.70 33.91L394.98 33.88M394.98 33.88L396.13 33.77M396.13 33.77L396.30 33.76M399.00 33.54L399.46 33.51M399.46 33.51L400.54 33.43M400.54 33.43L400.60 33.43M403.30 33.27L403.70 33.25M403.70 33.25L404.72 33.21M404.72 33.21L404.90 33.20M407.60 33.10L407.72 33.10M407.72 33.10L408.69 33.07M408.69 33.07L409.20 33.06M411.90 33.02L412.47 33.02M412.47 33.02L413.38 33.02M413.38 33.02L413.50 33.02M416.20 33.03L416.95 33.04M416.95 33.04L417.80 33.06M420.50 33.13L421.18 33.15M421.18 33.15L422.00 33.18M422.00 33.18L422.10 33.18" fill="none" stroke="#000000" stroke-width="1.05"/>
<path d="M61.95 134.68L64.40 132.23L66.85 134.68L64.40 137.13Z" fill="#000000"/>
<path d="M116.26 119.68L118.71 117.23L121.16 119.68L118.71 122.13Z" fill="#000000"/>
<path d="M148.02 110.92L150.47 108.47L152.92 110.92L150.47 113.37Z" fill="#000000"/>
<path d="M170.56 104.56L173.01 102.11L175.46 104.56L173.01 107.01Z" fill="#000000"/>
<path d="M188.04 99.48L190.49 97.03L192.94 99.48L190.49 101.93Z" fill="#000000"/>
<path d="M202.33 95.19L204.78 92.74L207.23 95.19L204.78 97.64Z" fill="#000000"/>
<path d="M214.41 91.47L216.86 89.02L219.31 91.47L216.86 93.92Z" fill="#000000"/>
<path d="M224.87 88.15L227.32 85.70L229.77 88.15L227.32 90.60Z" fill="#000000"/>
<path d="M234.10 85.15L236.55 82.70L239.00 85.15L236.55 87.60Z" fill="#000000"/>
<path d="M242.35 82.40L244.80 79.95L247.25 82.40L244.80 84.85Z" fill="#000000"/>
<path d="M249.82 79.85L252.27 77.40L254.72 79.85L252.27 82.30Z" fill="#000000"/>
<path d="M256.63 77.48L259.08 75.03L261.53 77.48L259.08 79.93Z" fill="#000000"/>
<path d="M262.91 75.25L265.36 72.80L267.81 75.25L265.36 77.70Z" fill="#000000"/>
<path d="M268.71 73.15L271.16 70.70L273.61 73.15L271.16 75.60Z" fill="#000000"/>
<path d="M274.12 71.16L276.57 68.71L279.02 71.16L276.57 73.61Z" fill="#000000"/>
<path d="M279.17 69.27L281.62 66.82L284.07 69.27L281.62 71.72Z" fill="#000000"/>
<path d="M283.92 67.46L286.37 65.01L288.82 67.46L286.37 69.91Z" fill="#000000"/>
<path d="M288.40 65.74L290.85 63.29L293.30 65.74L290.85 68.19Z" fill="#000000"/>
<path d="M292.64 64.09L295.09 61.64L297.54 64.09L295.09 66.54Z" fill="#000000"/>
<path d="M296.66 62.53L299.11 60.08L301.56 62.53L299.11 64.98Z" fill="#000000"/>
<path d="M300.48 61.03L302.93 58.58L305.38 61.03L302.93 63.48Z" fill="#000000"/>
<path d="M304.12 59.61L306.57 57.16L309.02 59.61L306.57 62.06Z" fill="#000000"/>
<path d="M307.61 58.25L310.06 55.80L312.51 58.25L310.06 60.70Z" fill="#000000"/>
<path d="M310.94 56.96L313.39 54.51L315.84 56.96L313.39 59.41Z" fill="#000000"/>
<path d="M314.14 55.72L316.59 53.27L319.04 55.72L316.59 58.17Z" fill="#000000"/>
<path d="M317.21 54.54L319.66 52.09L322.11 54.54L319.66 56.99Z" fill="#000000"/>
<path d="M320.17 53.41L322.62 50.96L325.07 53.41L322.62 55.86Z" fill="#000000"/>
<path d="M323.02 52.34L325.47 49.89L327.92 52.34L325.47 54.79Z" fill="#000000"/>
<path d="M325.77 51.31L328.22 48.86L330.67 51.31L328.22 53.76Z" fill="#000000"/>
<path d="M328.42 50.33L330.87 47.88L333.32 50.33L330.87 52.78Z" fill="#000000"/>
<path d="M330.99 49.39L333.44 46.94L335.89 49.39L333.44 51.84Z" fill="#000000"/>
<path d="M333.48 48.50L335.93 46.05L338.38 48.50L335.93 50.95Z" fill="#000000"/>
<path d="M335.89 47.64L338.34 45.19L340.79 47.64L338.34 50.09Z" fill="#000000"/>
<path d="M338.23 46.82L340.68 44.37L343.13 46.82L340.68 49.27Z" fill="#000000"/>
<path d="M340.50 46.03L342.95 43.58L345.40 46.03L342.95 48.48Z" fill="#000000"/>
<path d="M342.71 45.28L345.16 42.83L347.61 45.28L345.16 47.73Z" fill="#000000"/>
<path d="M344.85 44.56L347.30 42.11L349.75 44.56L347.30 47.01Z" fill="#000000"/>
<path d="M346.94 43.88L349.39 41.43L351.84 43.88L349.39 46.33Z" fill="#000000"/>
<path d="M348.98 43.22L351.43 40.77L353.88 43.22L351.43 45.67Z" fill="#000000"/>
<path d="M350.96 42.60L353.41 40.15L355.86 42.60L353.41 45.05Z" fill="#000000"/>
<path d="M352.90 42.00L355.35 39.55L357.80 42.00L355.35 44.45Z" fill="#000000"/>
<path d="M354.78 41.43L357.23 38.98L359.68 41.43L357.23 43.88Z" fill="#000000"/>
<path d="M356.63 40.89L359.08 38.44L361.53 40.89L359.08 43.34Z" fill="#000000"/>
<path d="M358.43 40.38L360.88 37.93L363.33 40.38L360.88 42.83Z" fill="#000000"/>
<path d="M360.19 39.89L362.64 37.44L365.09 39.89L362.64 42.34Z" fill="#000000"/>
<path d="M361.91 39.43L364.36 36.98L366.81 39.43L364.36 41.88Z" fill="#000000"/>
<path d="M363.60 38.99L366.05 36.54L368.50 38.99L366.05 41.44Z" fill="#000000"/>
<path d="M365.25 38.57L367.70 36.12L370.15 38.57L367.70 41.02Z" fill="#000000"/>
<path d="M366.86 38.18L369.31 35.73L371.76 38.18L369.31 40.63Z" fill="#000000"/>
<path d="M368.44 37.80L370.89 35.35L373.34 37.80L370.89 40.25Z" fill="#000000"/>
<path d="M370.00 37.45L372.45 35.00L374.90 37.45L372.45 39.90Z" fill="#000000"/>
<path d="M371.52 37.12L373.97 34.67L376.42 37.12L373.97 39.57Z" fill="#000000"/>
<path d="M373.01 36.81L375.46 34.36L377.91 36.81L375.46 39.26Z" fill="#000000"/>
<path d="M374.47 36.52L376.92 34.07L379.37 36.52L376.92 38.97Z" fill="#000000"/>
<path d="M375.91 36.24L378.36 33.79L380.81 36.24L378.36 38.69Z" fill="#000000"/>
<path d="M377.32 35.98L379.77 33.53L382.22 35.98L379.77 38.43Z" fill="#000000"/>
<path d="M378.71 35.73L381.16 33.28L383.61 35.73L381.16 38.18Z" fill="#000000"/>
<path d="M380.07 35.50L382.52 33.05L384.97 35.50L382.52 37.95Z" fill="#000000"/>
<path d="M381.41 35.29L383.86 32.84L386.31 35.29L383.86 37.74Z" fill="#000000"/>
<path d="M382.73 35.09L385.18 32.64L387.63 35.09L385.18 37.54Z" fill="#000000"/>
<path d="M384.02 34.90L386.47 32.45L388.92 34.90L386.47 37.35Z" fill="#000000"/>
<path d="M385.30 34.72L387.75 32.27L390.20 34.72L387.75 37.17Z" fill="#000000"/>
<path d="M386.55 34.55L389.00 32.10L391.45 34.55L389.00 37.00Z" fill="#000000"/>
<path d="M387.78 34.40L390.23 31.95L392.68 34.40L390.23 36.85Z" fill="#000000"/>
<path d="M389.00 34.25L391.45 31.80L393.90 34.25L391.45 36.70Z" fill="#000000"/>
<path d="M390.20 34.12L392.65 31.67L395.10 34.12L392.65 36.57Z" fill="#000000"/>
<path d="M391.37 34.00L393.82 31.55L396.27 34.00L393.82 36.45Z" fill="#000000"/>
<path d="M392.53 33.88L394.98 31.43L397.43 33.88L394.98 36.33Z" fill="#000000"/>
<path d="M393.68 33.77L396.13 31.32L398.58 33.77L396.13 36.22Z" fill="#000000"/>
<path d="M394.81 33.68L397.26 31.23L399.71 33.68L397.26 36.13Z" fill="#000000"/>
<path d="M395.92 33.59L398.37 31.14L400.82 33.59L398.37 36.04Z" fill="#000000"/>
<path d="M397.01 33.51L399.46 31.06L401.91 33.51L399.46 35.96Z" fill="#000000"/>
<path d="M398.09 33.43L400.54 30.98L402.99 33.43L400.54 35.88Z" fill="#000000"/>
<path d="M399.16 33.37L401.61 30.92L404.06 33.37L401.61 35.82Z" fill="#000000"/>
<path d="M400.21 33.31L402.66 30.86L405.11 33.31L402.66 35.76Z" fill="#000000"/>
<path d="M401.25 33.25L403.70 30.80L406.15 33.25L403.70 35.70Z" fill="#000000"/>
<path d="M402.27 33.21L404.72 30.76L407.17 33.21L404.72 35.66Z" fill="#000000"/>
<path d="M403.28 33.17L405.73 30.72L408.18 33.17L405.73 35.62Z" fill="#000000"/>
<path d="M404.28 33.13L406.73 30.68L409.18 33.13L406.73 35.58Z" fill="#000000"/>
<path d="M405.27 33.10L407.72 30.65L410.17 33.10L407.72 35.55Z" fill="#000000"/>
<path d="M406.24 33.07L408.69 30.62L411.14 33.07L408.69 35.52Z" fill="#000000"/>
<path d="M407.20 33.05L409.65 30.60L412.10 33.05L409.65 35.50Z" fill="#000000"/>
<path d="M408.15 33.04L410.60 30.59L413.05 33.04L410.60 35.49Z" fill="#000000"/>
<path d="M409.09 33.03L411.54 30.58L413.99 33.03L411.54 35.48Z" fill="#000000"/>
<path d="M410.02 33.02L412.47 30.57L414.92 33.02L412.47 35.47Z" fill="#000000"/>
<path d="M410.93 33.02L413.38 30.57L415.83 33.02L413.38 35.47Z" fill="#000000"/>
<path d="M411.84 33.02L414.29 30.57L416.74 33.02L414.29 35.47Z" fill="#000000"/>
<path d="M412.73 33.02L415.18 30.57L417.63 33.02L415.18 35.47Z" fill="#000000"/>
<path d="M413.62 33.03L416.07 30.58L418.52 33.03L416.07 35.48Z" fill="#000000"/>
<path d="M414.50 33.04L416.95 30.59L419.40 33.04L416.95 35.49Z" fill="#000000"/>
<path d="M415.36 33.06L417.81 30.61L420.26 33.06L417.81 35.51Z" fill="#000000"/>
<path d="M416.22 33.08L418.67 30.63L421.12 33.08L418.67 35.53Z" fill="#000000"/>
<path d="M417.06 33.10L419.51 30.65L421.96 33.10L419.51 35.55Z" fill="#000000"/>
<path d="M417.90 33.12L420.35 30.67L422.80 33.12L420.35 35.57Z" fill="#000000"/>
<path d="M418.73 33.15L421.18 30.70L423.63 33.15L421.18 35.60Z" fill="#000000"/>
<path d="M419.55 33.18L422.00 30.73L424.45 33.18L422.00 35.63Z" fill="#000000"/>
<path d="M420.36 33.21L422.81 30.76L425.26 33.21L422.81 35.66Z" fill="#000000"/>
<path d="M421.17 33.24L423.62 30.79L426.07 33.24L423.62 35.69Z" fill="#000000"/>
<path d="M421.96 33.28L424.41 30.83L426.86 33.28L424.41 35.73Z" fill="#000000"/>
<path d="M64.40 145.74L65.20 145.47M67.90 144.56L69.50 144.02M72.20 143.11L73.80 142.57M76.50 141.66L78.10 141.13M80.80 140.22L82.40 139.68M85.10 138.77L86.70 138.23M89.40 137.32L91.00 136.78M93.70 135.88L95.30 135.34M98.00 134.43L99.60 133.89M102.30 132.98L103.90 132.44M106.60 131.53L108.20 130.99M110.90 130.09L112.50 129.55M115.20 128.64L116.80 128.10M119.50 127.19L121.10 126.65M123.80 125.73L125.40 125.19M128.10 124.28L129.70 123.73M132.40 122.82L134.00 122.28M136.70 121.36L138.30 120.82M141.00 119.90L142.60 119.36M145.30 118.45L146.90 117.91M149.60 116.99L150.47 116.70M150.47 116.70L151.20 116.44M153.90 115.50L155.50 114.94M158.20 114.00L159.80 113.44M162.50 112.50L164.10 111.94M166.80 111.00L168.40 110.45M171.10 109.50L172.70 108.95M175.40 107.98L177.00 107.40M179.70 106.43L181.30 105.86M184.00 104.88L185.60 104.31M188.30 103.34L189.90 102.76M192.60 101.76L194.20 101.17M196.90 100.17L198.50 99.57M201.20 98.57L202.80 97.98M205.50 96.97L207.10 96.36M209.80 95.32L211.40 94.71M214.10 93.68L215.70 93.07M218.40 92.02L220.00 91.39M222.70 90.33L224.30 89.70M227.00 88.64L227.32 88.52M227.32 88.52L228.60 88.00M231.30 86.91L232.90 86.26M235.60 85.18L236.55 84.79M236.55 84.79L237.20 84.52M239.90 83.41L241.50 82.75M244.20 81.63L244.80 81.39M244.80 81.39L245.80 80.96M248.50 79.82L250.10 79.15M252.80 78.00L254.40 77.31M257.10 76.15L258.70 75.46M261.40 74.28L263.00 73.57M265.70 72.38L267.30 71.67M270.00 70.46L271.16 69.94M271.16 69.94L271.60 69.74M274.30 68.51L275.90 67.78M278.60 66.53L280.20 65.79M282.90 64.53L284.50 63.78M287.20 62.50L288.80 61.74M291.50 60.44L293.10 59.67M295.80 58.36L297.40 57.58M300.10 56.26L301.70 55.47M304.40 54.14L306.00 53.34M308.70 52.00L310.06 51.32M310.06 51.32L310.30 51.20M313.00 49.85L313.39 49.66M313.39 49.66L314.60 49.05M317.30 47.70L318.90 46.90M321.60 45.54L322.62 45.03M322.62 45.03L323.20 44.74M325.90 43.38L327.50 42.58M330.20 41.22L330.87 40.88M330.87 40.88L331.80 40.42M334.50 39.07L335.93 38.36M335.93 38.36L336.10 38.27M338.80 36.93L340.40 36.13M343.10 34.79L344.70 34.01M347.40 32.68L349.00 31.91M351.70 30.62L353.30 29.86M356.00 28.62L357.23 28.06M357.23 28.06L357.60 27.89M360.30 26.71L360.88 26.46M360.88 26.46L361.90 26.03M364.60 24.92L366.05 24.35M366.05 24.35L366.20 24.30M368.90 23.29L369.31 23.14M369.31 23.14L370.50 22.72M373.20 21.82L373.97 21.57M373.97 21.57L374.80 21.32M377.50 20.53L378.36 20.29M378.36 20.29L379.10 20.09M381.80 19.41L382.52 19.23M382.52 19.23L383.40 19.03M386.10 18.45L386.47 18.37M386.47 18.37L387.70 18.13M390.40 17.65L391.45 17.47M391.45 17.47L392.00 17.39M394.70 16.99L394.98 16.95M394.98 16.95L396.13 16.80M396.13 16.80L396.30 16.78M399.00 16.47L399.46 16.42M399.46 16.42L400.54 16.31M400.54 16.31L400.60 16.31M403.30 16.07L403.70 16.04M403.70 16.04L404.72 15.96M404.72 15.96L404.90 15.95M407.60 15.77L407.72 15.76M407.72 15.76L408.69 15.71M408.69 15.71L409.20 15.68M411.90 15.55L412.47 15.53M412.47 15.53L413.38 15.49M413.38 15.49L413.50 15.49M416.20 15.40L416.95 15.37M416.95 15.37L417.80 15.35M420.50 15.28L421.18 15.26M421.18 15.26L422.00 15.25M422.00 15.25L422.10 15.24" fill="none" stroke="#ff0000" stroke-width="1.05"/>
<circle cx="64.4" cy="145.7" r="2.15" fill="#ff0000"/>
<circle cx="118.7" cy="127.5" r="2.15" fill="#ff0000"/>
<circle cx="150.5" cy="116.7" r="2.15" fill="#ff0000"/>
<circle cx="173.0" cy="108.8" r="2.15" fill="#ff0000"/>
<circle cx="190.5" cy="102.5" r="2.15" fill="#ff0000"/>
<circle cx="204.8" cy="97.2" r="2.15" fill="#ff0000"/>
<circle cx="216.9" cy="92.6" r="2.15" fill="#ff0000"/>
<circle cx="227.3" cy="88.5" r="2.15" fill="#ff0000"/>
<circle cx="236.5" cy="84.8" r="2.15" fill="#ff0000"/>
<circle cx="244.8" cy="81.4" r="2.15" fill="#ff0000"/>
<circle cx="252.3" cy="78.2" r="2.15" fill="#ff0000"/>
<circle cx="259.1" cy="75.3" r="2.15" fill="#ff0000"/>
<circle cx="265.4" cy="72.5" r="2.15" fill="#ff0000"/>
<circle cx="271.2" cy="69.9" r="2.15" fill="#ff0000"/>
<circle cx="276.6" cy="67.5" r="2.15" fill="#ff0000"/>
<circle cx="281.6" cy="65.1" r="2.15" fill="#ff0000"/>
<circle cx="286.4" cy="62.9" r="2.15" fill="#ff0000"/>
<circle cx="290.9" cy="60.8" r="2.15" fill="#ff0000"/>
<circle cx="295.1" cy="58.7" r="2.15" fill="#ff0000"/>
<circle cx="299.1" cy="56.7" r="2.15" fill="#ff0000"/>
<circle cx="302.9" cy="54.9" r="2.15" fill="#ff0000"/>
<circle cx="306.6" cy="53.1" r="2.15" fill="#ff0000"/>
<circle cx="310.1" cy="51.3" r="2.15" fill="#ff0000"/>
<circle cx="313.4" cy="49.7" r="2.15" fill="#ff0000"/>
<circle cx="316.6" cy="48.1" r="2.15" fill="#ff0000"/>
<circle cx="319.7" cy="46.5" r="2.15" fill="#ff0000"/>
<circle cx="322.6" cy="45.0" r="2.15" fill="#ff0000"/>
<circle cx="325.5" cy="43.6" r="2.15" fill="#ff0000"/>
<circle cx="328.2" cy="42.2" r="2.15" fill="#ff0000"/>
<circle cx="330.9" cy="40.9" r="2.15" fill="#ff0000"/>
<circle cx="333.4" cy="39.6" r="2.15" fill="#ff0000"/>
<circle cx="335.9" cy="38.4" r="2.15" fill="#ff0000"/>
<circle cx="338.3" cy="37.2" r="2.15" fill="#ff0000"/>
<circle cx="340.7" cy="36.0" r="2.15" fill="#ff0000"/>
<circle cx="342.9" cy="34.9" r="2.15" fill="#ff0000"/>
<circle cx="345.2" cy="33.8" r="2.15" fill="#ff0000"/>
<circle cx="347.3" cy="32.7" r="2.15" fill="#ff0000"/>
<circle cx="349.4" cy="31.7" r="2.15" fill="#ff0000"/>
<circle cx="351.4" cy="30.7" r="2.15" fill="#ff0000"/>
<circle cx="353.4" cy="29.8" r="2.15" fill="#ff0000"/>
<circle cx="355.3" cy="28.9" r="2.15" fill="#ff0000"/>
<circle cx="357.2" cy="28.1" r="2.15" fill="#ff0000"/>
<circle cx="359.1" cy="27.2" r="2.15" fill="#ff0000"/>
<circle cx="360.9" cy="26.5" r="2.15" fill="#ff0000"/>
<circle cx="362.6" cy="25.7" r="2.15" fill="#ff0000"/>
<circle cx="364.4" cy="25.0" r="2.15" fill="#ff0000"/>
<circle cx="366.0" cy="24.4" r="2.15" fill="#ff0000"/>
<circle cx="367.7" cy="23.7" r="2.15" fill="#ff0000"/>
<circle cx="369.3" cy="23.1" r="2.15" fill="#ff0000"/>
<circle cx="370.9" cy="22.6" r="2.15" fill="#ff0000"/>
<circle cx="372.4" cy="22.1" r="2.15" fill="#ff0000"/>
<circle cx="374.0" cy="21.6" r="2.15" fill="#ff0000"/>
<circle cx="375.5" cy="21.1" r="2.15" fill="#ff0000"/>
<circle cx="376.9" cy="20.7" r="2.15" fill="#ff0000"/>
<circle cx="378.4" cy="20.3" r="2.15" fill="#ff0000"/>
<circle cx="379.8" cy="19.9" r="2.15" fill="#ff0000"/>
<circle cx="381.2" cy="19.6" r="2.15" fill="#ff0000"/>
<circle cx="382.5" cy="19.2" r="2.15" fill="#ff0000"/>
<circle cx="383.9" cy="18.9" r="2.15" fill="#ff0000"/>
<circle cx="385.2" cy="18.6" r="2.15" fill="#ff0000"/>
<circle cx="386.5" cy="18.4" r="2.15" fill="#ff0000"/>
<circle cx="387.7" cy="18.1" r="2.15" fill="#ff0000"/>
<circle cx="389.0" cy="17.9" r="2.15" fill="#ff0000"/>
<circle cx="390.2" cy="17.7" r="2.15" fill="#ff0000"/>
<circle cx="391.4" cy="17.5" r="2.15" fill="#ff0000"/>
<circle cx="392.6" cy="17.3" r="2.15" fill="#ff0000"/>
<circle cx="393.8" cy="17.1" r="2.15" fill="#ff0000"/>
<circle cx="395.0" cy="17.0" r="2.15" fill="#ff0000"/>
<circle cx="396.1" cy="16.8" r="2.15" fill="#ff0000"/>
<circle cx="397.3" cy="16.7" r="2.15" fill="#ff0000"/>
<circle cx="398.4" cy="16.5" r="2.15" fill="#ff0000"/>
<circle cx="399.5" cy="16.4" r="2.15" fill="#ff0000"/>
<circle cx="400.5" cy="16.3" r="2.15" fill="#ff0000"/>
<circle cx="401.6" cy="16.2" r="2.15" fill="#ff0000"/>
<circle cx="402.7" cy="16.1" r="2.15" fill="#ff0000"/>
<circle cx="403.7" cy="16.0" r="2.15" fill="#ff0000"/>
<circle cx="404.7" cy="16.0" r="2.15" fill="#ff0000"/>
<circle cx="405.7" cy="15.9" r="2.15" fill="#ff0000"/>
<circle cx="406.7" cy="15.8" r="2.15" fill="#ff0000"/>
<circle cx="407.7" cy="15.8" r="2.15" fill="#ff0000"/>
<circle cx="408.7" cy="15.7" r="2.15" fill="#ff0000"/>
<circle cx="409.7" cy="15.7" r="2.15" fill="#ff0000"/>
<circle cx="410.6" cy="15.6" r="2.15" fill="#ff0000"/>
<circle cx="411.5" cy="15.6" r="2.15" fill="#ff0000"/>
<circle cx="412.5" cy="15.5" r="2.15" fill="#ff0000"/>
<circle cx="413.4" cy="15.5" r="2.15" fill="#ff0000"/>
<circle cx="414.3" cy="15.5" r="2.15" fill="#ff0000"/>
<circle cx="415.2" cy="15.4" r="2.15" fill="#ff0000"/>
<circle cx="416.1" cy="15.4" r="2.15" fill="#ff0000"/>
<circle cx="416.9" cy="15.4" r="2.15" fill="#ff0000"/>
<circle cx="417.8" cy="15.4" r="2.15" fill="#ff0000"/>
<circle cx="418.7" cy="15.3" r="2.15" fill="#ff0000"/>
<circle cx="419.5" cy="15.3" r="2.15" fill="#ff0000"/>
<circle cx="420.4" cy="15.3" r="2.15" fill="#ff0000"/>
<circle cx="421.2" cy="15.3" r="2.15" fill="#ff0000"/>
<circle cx="422.0" cy="15.2" r="2.15" fill="#ff0000"/>
<circle cx="422.8" cy="15.2" r="2.15" fill="#ff0000"/>
<circle cx="423.6" cy="15.2" r="2.15" fill="#ff0000"/>
<circle cx="424.4" cy="15.2" r="2.15" fill="#ff0000"/>
<line x1="56.5" y1="181.05" x2="432.2" y2="20.83" stroke="#ff0000" stroke-width="1.7"/>
</g>
<rect x="56.5" y="8.7" width="375.7" height="277.3" fill="none" stroke="#000" stroke-width="1.55"/>
<path d="M64.4 286.0v-5.8M64.4 8.7v5.8M118.7 286.0v-3.3M118.7 8.7v3.3M150.5 286.0v-3.3M150.5 8.7v3.3M173.0 286.0v-3.3M173.0 8.7v3.3M190.5 286.0v-3.3M190.5 8.7v3.3M204.8 286.0v-3.3M204.8 8.7v3.3M216.9 286.0v-3.3M216.9 8.7v3.3M227.3 286.0v-3.3M227.3 8.7v3.3M236.5 286.0v-3.3M236.5 8.7v3.3M244.8 286.0v-5.8M244.8 8.7v5.8M299.1 286.0v-3.3M299.1 8.7v3.3M330.9 286.0v-3.3M330.9 8.7v3.3M353.4 286.0v-3.3M353.4 8.7v3.3M370.9 286.0v-3.3M370.9 8.7v3.3M385.2 286.0v-3.3M385.2 8.7v3.3M397.3 286.0v-3.3M397.3 8.7v3.3M407.7 286.0v-3.3M407.7 8.7v3.3M416.9 286.0v-3.3M416.9 8.7v3.3M425.2 286.0v-5.8M425.2 8.7v5.8M56.5 272.1h3.3M432.2 272.1h-3.3M56.5 263.9h3.3M432.2 263.9h-3.3M56.5 258.2h3.3M432.2 258.2h-3.3M56.5 253.7h3.3M432.2 253.7h-3.3M56.5 250.0h3.3M432.2 250.0h-3.3M56.5 246.9h3.3M432.2 246.9h-3.3M56.5 244.3h3.3M432.2 244.3h-3.3M56.5 241.9h3.3M432.2 241.9h-3.3M56.5 239.8h5.8M432.2 239.8h-5.8M56.5 225.9h3.3M432.2 225.9h-3.3M56.5 217.7h3.3M432.2 217.7h-3.3M56.5 212.0h3.3M432.2 212.0h-3.3M56.5 207.5h3.3M432.2 207.5h-3.3M56.5 203.8h3.3M432.2 203.8h-3.3M56.5 200.7h3.3M432.2 200.7h-3.3M56.5 198.0h3.3M432.2 198.0h-3.3M56.5 195.7h3.3M432.2 195.7h-3.3M56.5 193.6h5.8M432.2 193.6h-5.8M56.5 179.7h3.3M432.2 179.7h-3.3M56.5 171.5h3.3M432.2 171.5h-3.3M56.5 165.7h3.3M432.2 165.7h-3.3M56.5 161.3h3.3M432.2 161.3h-3.3M56.5 157.6h3.3M432.2 157.6h-3.3M56.5 154.5h3.3M432.2 154.5h-3.3M56.5 151.8h3.3M432.2 151.8h-3.3M56.5 149.5h3.3M432.2 149.5h-3.3M56.5 147.3h5.8M432.2 147.3h-5.8M56.5 133.4h3.3M432.2 133.4h-3.3M56.5 125.3h3.3M432.2 125.3h-3.3M56.5 119.5h3.3M432.2 119.5h-3.3M56.5 115.0h3.3M432.2 115.0h-3.3M56.5 111.4h3.3M432.2 111.4h-3.3M56.5 108.3h3.3M432.2 108.3h-3.3M56.5 105.6h3.3M432.2 105.6h-3.3M56.5 103.2h3.3M432.2 103.2h-3.3M56.5 101.1h5.8M432.2 101.1h-5.8M56.5 87.2h3.3M432.2 87.2h-3.3M56.5 79.1h3.3M432.2 79.1h-3.3M56.5 73.3h3.3M432.2 73.3h-3.3M56.5 68.8h3.3M432.2 68.8h-3.3M56.5 65.2h3.3M432.2 65.2h-3.3M56.5 62.1h3.3M432.2 62.1h-3.3M56.5 59.4h3.3M432.2 59.4h-3.3M56.5 57.0h3.3M432.2 57.0h-3.3M56.5 54.9h5.8M432.2 54.9h-5.8M56.5 41.0h3.3M432.2 41.0h-3.3M56.5 32.9h3.3M432.2 32.9h-3.3M56.5 27.1h3.3M432.2 27.1h-3.3M56.5 22.6h3.3M432.2 22.6h-3.3M56.5 19.0h3.3M432.2 19.0h-3.3M56.5 15.9h3.3M432.2 15.9h-3.3M56.5 13.2h3.3M432.2 13.2h-3.3M56.5 10.8h3.3M432.2 10.8h-3.3" stroke="#000" stroke-width="1.35" fill="none"/>
<text class="k" x="64.4" y="302.8" font-family="Liberation Serif, serif" font-size="13.3" text-anchor="middle" >1</text>
<text class="k" x="244.8" y="302.8" font-family="Liberation Serif, serif" font-size="13.3" text-anchor="middle" >10</text>
<text class="k" x="425.70000000000005" y="302.8" font-family="Liberation Serif, serif" font-size="13.3" text-anchor="middle" >100</text>
<text class="k" x="50.1" y="13.7" font-family="Liberation Serif, serif" font-size="13.3" text-anchor="end">10<tspan dy="-6.5" font-size="8">2</tspan></text>
<text class="k" x="50.1" y="152.3" font-family="Liberation Serif, serif" font-size="13.3" text-anchor="end">10<tspan dy="-6.5" font-size="8">-1</tspan></text>
<text class="k" x="50.1" y="198.6" font-family="Liberation Serif, serif" font-size="13.3" text-anchor="end">10<tspan dy="-6.5" font-size="8">-2</tspan></text>
<text class="k" x="50.1" y="244.8" font-family="Liberation Serif, serif" font-size="13.3" text-anchor="end">10<tspan dy="-6.5" font-size="8">-3</tspan></text>
<text class="k" x="50.1" y="291.0" font-family="Liberation Serif, serif" font-size="13.3" text-anchor="end">10<tspan dy="-6.5" font-size="8">-4</tspan></text>
<text class="k" x="49.3" y="59.81666666666667" font-family="Liberation Serif, serif" font-size="13.3" text-anchor="end" >10</text>
<text class="k" x="49.9" y="106.03333333333335" font-family="Liberation Serif, serif" font-size="13.3" text-anchor="end" >1</text>
<text class="k" transform="translate(14.2 155.3) rotate(-90)" font-family="Liberation Serif, serif" font-size="18.3" text-anchor="middle">σ(0)/σ(<tspan font-style="italic">x</tspan>) - 1</text>
<text class="k" x="317.5" y="322.5" font-family="Liberation Serif, serif" font-size="17.5" font-style="italic" text-anchor="middle">x/a</text>
<text class="k" x="74.8" y="40.2" font-family="Liberation Serif, serif" font-size="23">(a)</text>
<line x1="92.5" y1="66.3" x2="133.1" y2="66.3" stroke="#ff0000" stroke-width="1.5"/>
<text class="r" x="137" y="71.8" font-family="Liberation Serif, serif" font-size="17" fill="#ff0000">line ~ <tspan font-style="italic">x</tspan><tspan dy="-9" font-size="10.5">5/3</tspan></text>
<line x1="344.0" y1="160.9" x2="373.2" y2="160.9" stroke="#000000" stroke-width="1" stroke-dasharray="1.8 2.8"/>
<path d="M355.75 160.90L358.20 158.45L360.65 160.90L358.20 163.35Z" fill="#000000"/>
<text class="k" x="375.7" y="165.2" font-family="Liberation Serif, serif" font-size="12.5"><tspan font-style="italic">h</tspan>/<tspan font-style="italic">a</tspan> = 1</text>
<line x1="344.0" y1="176.5" x2="373.2" y2="176.5" stroke="#ff0000" stroke-width="1" stroke-dasharray="1.8 2.8"/>
<circle cx="358.2" cy="176.5" r="2.15" fill="#ff0000"/>
<text class="k" x="375.7" y="180.8" font-family="Liberation Serif, serif" font-size="12.5"><tspan font-style="italic">h</tspan>/<tspan font-style="italic">a</tspan> = 2</text>
<line x1="344.0" y1="192.2" x2="373.2" y2="192.2" stroke="#00ff00" stroke-width="1" stroke-dasharray="1.8 2.8"/>
<rect x="356.3" y="190.3" width="3.8" height="3.8" fill="#00ff00"/>
<text class="k" x="375.7" y="196.5" font-family="Liberation Serif, serif" font-size="12.5"><tspan font-style="italic">h</tspan>/<tspan font-style="italic">a</tspan> = 3</text>
<line x1="344.0" y1="207.8" x2="373.2" y2="207.8" stroke="#0000ff" stroke-width="1" stroke-dasharray="1.8 2.8"/>
<path d="M358.2 205.6L360.6 210.0L355.8 210.0Z" fill="#0000ff"/>
<text class="k" x="375.7" y="212.1" font-family="Liberation Serif, serif" font-size="12.5"><tspan font-style="italic">h</tspan>/<tspan font-style="italic">a</tspan> = 5</text>
<line x1="344.0" y1="223.5" x2="373.2" y2="223.5" stroke="#00ffff" stroke-width="1" stroke-dasharray="1.8 2.8"/>
<path d="M358.2 225.7L360.6 221.3L355.8 221.3Z" fill="#00ffff"/>
<text class="k" x="375.7" y="227.8" font-family="Liberation Serif, serif" font-size="12.5"><tspan font-style="italic">h</tspan>/<tspan font-style="italic">a</tspan> = 10</text>
<line x1="344.0" y1="239.1" x2="373.2" y2="239.1" stroke="#ff00ff" stroke-width="1" stroke-dasharray="1.8 2.8"/>
<path d="M355.3 239.1L359.7 236.8L359.7 241.5Z" fill="#ff00ff"/>
<text class="k" x="375.7" y="243.4" font-family="Liberation Serif, serif" font-size="12.5"><tspan font-style="italic">h</tspan>/<tspan font-style="italic">a</tspan> = 15</text>
<line x1="344.0" y1="254.7" x2="373.2" y2="254.7" stroke="#ff0000" stroke-width="1" stroke-dasharray="1.8 2.8"/>
<path d="M361.1 254.7L356.7 252.4L356.7 257.1Z" fill="#ff0000"/>
<text class="k" x="375.7" y="259.0" font-family="Liberation Serif, serif" font-size="12.5"><tspan font-style="italic">h</tspan>/<tspan font-style="italic">a</tspan> = 25</text>
<line x1="344.0" y1="270.4" x2="373.2" y2="270.4" stroke="#000000" stroke-width="1" stroke-dasharray="1.8 2.8"/>
<path d="M358.2 267.8L358.8 269.6L360.7 269.6L359.2 270.7L359.7 272.5L358.2 271.4L356.7 272.5L357.2 270.7L355.7 269.6L357.6 269.6Z" fill="#000000"/>
<text class="k" x="375.7" y="274.7" font-family="Liberation Serif, serif" font-size="12.5"><tspan font-style="italic">h</tspan>/<tspan font-style="italic">a</tspan> = 38</text>
</svg>
</body></html>
